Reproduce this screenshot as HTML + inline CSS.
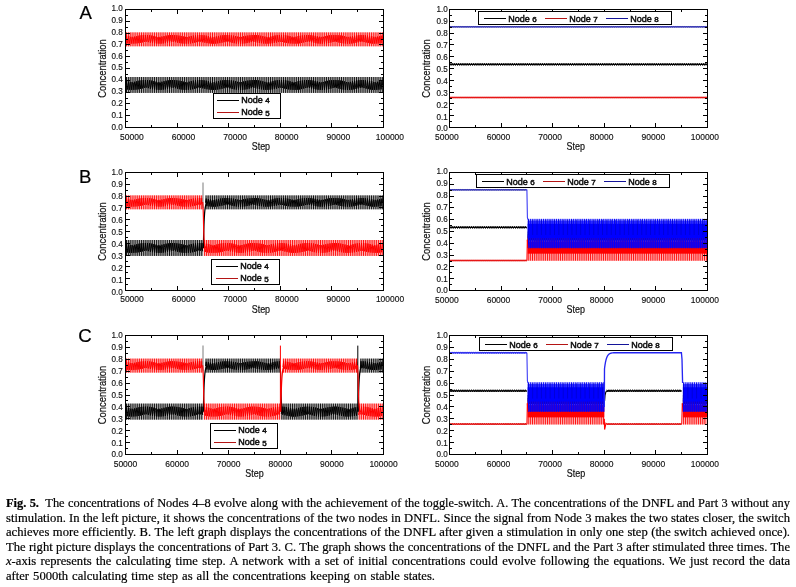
<!DOCTYPE html>
<html><head><meta charset="utf-8"><title>Fig. 5</title>
<style>
html,body{margin:0;padding:0;background:#fff;}
body{width:796px;height:587px;position:relative;overflow:hidden;font-family:"Liberation Sans",sans-serif;}
svg text{font-family:"Liberation Sans",sans-serif;fill:#111;}
.tk{font-size:8.8px;stroke:#111;stroke-width:0.15px;}
.ax{font-size:10.3px;stroke:#111;stroke-width:0.2px;}
.ax2{font-size:10.5px;stroke:#111;stroke-width:0.2px;}
.lg{font-size:9px;stroke:#111;stroke-width:0.5px;}
.os{font-size:8px;}
.pl{font-size:18.6px;fill:#000;stroke:#000;stroke-width:0.2px;}
.cl{position:absolute;left:6px;width:784px;height:15px;line-height:15px;font-family:"Liberation Serif",serif;font-size:12.6px;color:#000;-webkit-text-stroke:0.2px #000;white-space:nowrap;text-align:justify;text-align-last:justify;}
</style></head><body>
<svg width="796" height="490" viewBox="0 0 796 490" style="position:absolute;left:0;top:0">
<g>
<rect x="126" y="77" width="257" height="15.93" fill="#000000" opacity="0.3"/>
<path d="M126.5 77V92.93M128.65 77V92.93M130.8 77V92.93M132.95 77V92.93M135.1 77V92.93M137.25 77V92.93M139.4 77V92.93M141.55 77V92.93M143.7 77V92.93M145.85 77V92.93M148 77V92.93M150.15 77V92.93M152.3 77V92.93M154.45 77V92.93M156.6 77V92.93M158.75 77V92.93M160.9 77V92.93M163.05 77V92.93M165.2 77V92.93M167.35 77V92.93M169.5 77V92.93M171.65 77V92.93M173.8 77V92.93M175.95 77V92.93M178.1 77V92.93M180.25 77V92.93M182.4 77V92.93M184.55 77V92.93M186.7 77V92.93M188.85 77V92.93M191 77V92.93M193.15 77V92.93M195.3 77V92.93M197.45 77V92.93M199.6 77V92.93M201.75 77V92.93M203.9 77V92.93M206.05 77V92.93M208.2 77V92.93M210.35 77V92.93M212.5 77V92.93M214.65 77V92.93M216.8 77V92.93M218.95 77V92.93M221.1 77V92.93M223.25 77V92.93M225.4 77V92.93M227.55 77V92.93M229.7 77V92.93M231.85 77V92.93M234 77V92.93M236.15 77V92.93M238.3 77V92.93M240.45 77V92.93M242.6 77V92.93M244.75 77V92.93M246.9 77V92.93M249.05 77V92.93M251.2 77V92.93M253.35 77V92.93M255.5 77V92.93M257.65 77V92.93M259.8 77V92.93M261.95 77V92.93M264.1 77V92.93M266.25 77V92.93M268.4 77V92.93M270.55 77V92.93M272.7 77V92.93M274.85 77V92.93M277 77V92.93M279.15 77V92.93M281.3 77V92.93M283.45 77V92.93M285.6 77V92.93M287.75 77V92.93M289.9 77V92.93M292.05 77V92.93M294.2 77V92.93M296.35 77V92.93M298.5 77V92.93M300.65 77V92.93M302.8 77V92.93M304.95 77V92.93M307.1 77V92.93M309.25 77V92.93M311.4 77V92.93M313.55 77V92.93M315.7 77V92.93M317.85 77V92.93M320 77V92.93M322.15 77V92.93M324.3 77V92.93M326.45 77V92.93M328.6 77V92.93M330.75 77V92.93M332.9 77V92.93M335.05 77V92.93M337.2 77V92.93M339.35 77V92.93M341.5 77V92.93M343.65 77V92.93M345.8 77V92.93M347.95 77V92.93M350.1 77V92.93M352.25 77V92.93M354.4 77V92.93M356.55 77V92.93M358.7 77V92.93M360.85 77V92.93M363 77V92.93M365.15 77V92.93M367.3 77V92.93M369.45 77V92.93M371.6 77V92.93M373.75 77V92.93M375.9 77V92.93M378.05 77V92.93M380.2 77V92.93M382.35 77V92.93" fill="none" stroke="#000000" stroke-width="0.9"/>
<polyline points="126,84.77 126.72,80.94 127.43,89.56 128.15,83.95 128.87,81.47 129.58,89.79 130.3,83.16 131.02,82.09 131.73,89.9 132.45,82.43 133.17,82.8 133.88,89.86 134.6,81.76 135.32,83.57 136.03,89.69 136.75,81.18 137.47,84.38 138.18,89.39 138.9,80.7 139.62,85.2 140.33,88.96 141.05,80.35 141.77,86.01 142.48,88.42 143.2,80.12 143.92,86.8 144.63,87.79 145.35,80.03 146.07,87.53 146.78,87.08 147.5,80.07 148.22,88.2 148.93,86.31 149.65,80.25 150.37,88.77 151.08,85.5 151.8,80.56 152.52,89.24 153.23,84.68 153.95,80.99 154.67,89.59 155.38,83.87 156.1,81.53 156.82,89.81 157.53,83.08 158.25,82.17 158.97,89.9 159.68,82.35 160.4,82.88 161.12,89.85 161.83,81.69 162.55,83.66 163.27,89.66 163.98,81.12 164.7,84.46 165.42,89.35 166.13,80.66 166.85,85.29 167.57,88.91 168.28,80.32 169,86.1 169.72,88.36 170.43,80.1 171.15,86.88 171.87,87.72 172.58,80.02 173.3,87.61 174.02,87 174.73,80.08 175.45,88.27 176.17,86.22 176.88,80.27 177.6,88.83 178.32,85.41 179.03,80.6 179.75,89.28 180.47,84.59 181.18,81.04 181.9,89.62 182.62,83.78 183.33,81.6 184.05,89.83 184.77,83 185.48,82.24 186.2,89.9 186.92,82.27 187.63,82.96 188.35,89.83 189.07,81.62 189.78,83.74 190.5,89.63 191.22,81.07 191.93,84.55 192.65,89.3 193.37,80.62 194.08,85.38 194.8,88.85 195.52,80.29 196.23,86.19 196.95,88.29 197.67,80.09 198.38,86.96 199.1,87.64 199.82,80.02 200.53,87.69 201.25,86.92 201.97,80.1 202.68,88.33 203.4,86.14 204.12,80.3 204.83,88.88 205.55,85.32 206.27,80.64 206.98,89.33 207.7,84.5 208.42,81.1 209.13,89.65 209.85,83.69 210.57,81.66 211.28,89.84 212,82.92 212.72,82.32 213.43,89.9 214.15,82.2 214.87,83.05 215.58,89.82 216.3,81.56 217.02,83.83 217.73,89.6 218.45,81.01 219.17,84.64 219.88,89.26 220.6,80.57 221.32,85.46 222.03,88.8 222.75,80.26 223.47,86.27 224.18,88.23 224.9,80.07 225.62,87.05 226.33,87.57 227.05,80.02 227.77,87.76 228.48,86.83 229.2,80.11 229.92,88.4 230.63,86.05 231.35,80.33 232.07,88.94 232.78,85.24 233.5,80.68 234.22,89.37 234.93,84.41 235.65,81.15 236.37,89.68 237.08,83.61 237.8,81.73 238.52,89.85 239.23,82.84 239.95,82.39 240.67,89.9 241.38,82.13 242.1,83.13 242.82,89.8 243.53,81.49 244.25,83.92 244.97,89.57 245.68,80.96 246.4,84.73 247.12,89.22 247.83,80.53 248.55,85.55 249.27,88.74 249.98,80.23 250.7,86.36 251.42,88.16 252.13,80.06 252.85,87.13 253.57,87.49 254.28,80.03 255,87.83 255.72,86.75 256.43,80.13 257.15,88.46 257.87,85.96 258.58,80.37 259.3,88.99 260.02,85.15 260.73,80.73 261.45,89.41 262.17,84.32 262.88,81.21 263.6,89.7 264.32,83.52 265.03,81.8 265.75,89.87 266.47,82.76 267.18,82.47 267.9,89.89 268.62,82.05 269.33,83.21 270.05,89.78 270.77,81.43 271.48,84 272.2,89.54 272.92,80.91 273.63,84.82 274.35,89.17 275.07,80.49 275.78,85.64 276.5,88.68 277.22,80.21 277.93,86.44 278.65,88.09 279.37,80.05 280.08,87.21 280.8,87.41 281.52,80.03 282.23,87.9 282.95,86.67 283.67,80.15 284.38,88.52 285.1,85.88 285.82,80.4 286.53,89.04 287.25,85.06 287.97,80.78 288.68,89.45 289.4,84.24 290.12,81.27 290.83,89.73 291.55,83.43 292.27,81.87 292.98,89.88 293.7,82.68 294.42,82.55 295.13,89.89 295.85,81.98 296.57,83.3 297.28,89.76 298,81.37 298.72,84.09 299.43,89.51 300.15,80.86 300.87,84.91 301.58,89.12 302.3,80.46 303.02,85.73 303.73,88.62 304.45,80.18 305.17,86.53 305.88,88.02 306.6,80.04 307.32,87.29 308.03,87.34 308.75,80.04 309.47,87.98 310.18,86.58 310.9,80.17 311.62,88.58 312.33,85.79 313.05,80.43 313.77,89.09 314.48,84.97 315.2,80.82 315.92,89.48 316.63,84.15 317.35,81.33 318.07,89.75 318.78,83.35 319.5,81.94 320.22,89.88 320.93,82.6 321.65,82.63 322.37,89.88 323.08,81.91 323.8,83.38 324.52,89.74 325.23,81.31 325.95,84.18 326.67,89.47 327.38,80.81 328.1,85 328.82,89.07 329.53,80.42 330.25,85.82 330.97,88.56 331.68,80.16 332.4,86.61 333.12,87.95 333.83,80.04 334.55,87.36 335.27,87.26 335.98,80.05 336.7,88.05 337.42,86.5 338.13,80.19 338.85,88.64 339.57,85.7 340.28,80.47 341,89.14 341.72,84.88 342.43,80.87 343.15,89.52 343.87,84.06 344.58,81.39 345.3,89.77 346.02,83.27 346.73,82.01 347.45,89.89 348.17,82.52 348.88,82.7 349.6,89.87 350.32,81.84 351.03,83.47 351.75,89.72 352.47,81.25 353.18,84.27 353.9,89.43 354.62,80.76 355.33,85.09 356.05,89.02 356.77,80.39 357.48,85.91 358.2,88.5 358.92,80.14 359.63,86.7 360.35,87.88 361.07,80.03 361.78,87.44 362.5,87.18 363.22,80.05 363.93,88.12 364.65,86.41 365.37,80.22 366.08,88.7 366.8,85.61 367.52,80.51 368.23,89.19 368.95,84.79 369.67,80.92 370.38,89.55 371.1,83.97 371.82,81.45 372.53,89.79 373.25,83.18 373.97,82.08 374.68,89.89 375.4,82.44 376.12,82.78 376.83,89.86 377.55,81.77 378.27,83.55 378.98,89.69 379.7,81.19 380.42,84.36 381.13,89.39 381.85,80.71 382.57,85.18" fill="none" stroke="#000000" stroke-width="1" stroke-linejoin="round"/>
<rect x="126" y="32.39" width="257" height="13.92" fill="#ff0000" opacity="0.3"/>
<path d="M126.5 32.39V46.32M128.65 32.39V46.32M130.8 32.39V46.32M132.95 32.39V46.32M135.1 32.39V46.32M137.25 32.39V46.32M139.4 32.39V46.32M141.55 32.39V46.32M143.7 32.39V46.32M145.85 32.39V46.32M148 32.39V46.32M150.15 32.39V46.32M152.3 32.39V46.32M154.45 32.39V46.32M156.6 32.39V46.32M158.75 32.39V46.32M160.9 32.39V46.32M163.05 32.39V46.32M165.2 32.39V46.32M167.35 32.39V46.32M169.5 32.39V46.32M171.65 32.39V46.32M173.8 32.39V46.32M175.95 32.39V46.32M178.1 32.39V46.32M180.25 32.39V46.32M182.4 32.39V46.32M184.55 32.39V46.32M186.7 32.39V46.32M188.85 32.39V46.32M191 32.39V46.32M193.15 32.39V46.32M195.3 32.39V46.32M197.45 32.39V46.32M199.6 32.39V46.32M201.75 32.39V46.32M203.9 32.39V46.32M206.05 32.39V46.32M208.2 32.39V46.32M210.35 32.39V46.32M212.5 32.39V46.32M214.65 32.39V46.32M216.8 32.39V46.32M218.95 32.39V46.32M221.1 32.39V46.32M223.25 32.39V46.32M225.4 32.39V46.32M227.55 32.39V46.32M229.7 32.39V46.32M231.85 32.39V46.32M234 32.39V46.32M236.15 32.39V46.32M238.3 32.39V46.32M240.45 32.39V46.32M242.6 32.39V46.32M244.75 32.39V46.32M246.9 32.39V46.32M249.05 32.39V46.32M251.2 32.39V46.32M253.35 32.39V46.32M255.5 32.39V46.32M257.65 32.39V46.32M259.8 32.39V46.32M261.95 32.39V46.32M264.1 32.39V46.32M266.25 32.39V46.32M268.4 32.39V46.32M270.55 32.39V46.32M272.7 32.39V46.32M274.85 32.39V46.32M277 32.39V46.32M279.15 32.39V46.32M281.3 32.39V46.32M283.45 32.39V46.32M285.6 32.39V46.32M287.75 32.39V46.32M289.9 32.39V46.32M292.05 32.39V46.32M294.2 32.39V46.32M296.35 32.39V46.32M298.5 32.39V46.32M300.65 32.39V46.32M302.8 32.39V46.32M304.95 32.39V46.32M307.1 32.39V46.32M309.25 32.39V46.32M311.4 32.39V46.32M313.55 32.39V46.32M315.7 32.39V46.32M317.85 32.39V46.32M320 32.39V46.32M322.15 32.39V46.32M324.3 32.39V46.32M326.45 32.39V46.32M328.6 32.39V46.32M330.75 32.39V46.32M332.9 32.39V46.32M335.05 32.39V46.32M337.2 32.39V46.32M339.35 32.39V46.32M341.5 32.39V46.32M343.65 32.39V46.32M345.8 32.39V46.32M347.95 32.39V46.32M350.1 32.39V46.32M352.25 32.39V46.32M354.4 32.39V46.32M356.55 32.39V46.32M358.7 32.39V46.32M360.85 32.39V46.32M363 32.39V46.32M365.15 32.39V46.32M367.3 32.39V46.32M369.45 32.39V46.32M371.6 32.39V46.32M373.75 32.39V46.32M375.9 32.39V46.32M378.05 32.39V46.32M380.2 32.39V46.32M382.35 32.39V46.32" fill="none" stroke="#ff0000" stroke-width="0.9"/>
<polyline points="126,39.19 126.72,35.84 127.43,43.37 128.15,38.47 128.87,36.3 129.58,43.58 130.3,37.78 131.02,36.85 131.73,43.67 132.45,37.14 133.17,37.47 133.88,43.64 134.6,36.55 135.32,38.14 136.03,43.49 136.75,36.05 137.47,38.84 138.18,43.22 138.9,35.63 139.62,39.56 140.33,42.85 141.05,35.32 141.77,40.27 142.48,42.38 143.2,35.12 143.92,40.96 144.63,41.83 145.35,35.04 146.07,41.6 146.78,41.21 147.5,35.08 148.22,42.18 148.93,40.53 149.65,35.23 150.37,42.69 151.08,39.83 151.8,35.5 152.52,43.09 153.23,39.11 153.95,35.88 154.67,43.4 155.38,38.4 156.1,36.36 156.82,43.59 157.53,37.71 158.25,36.91 158.97,43.67 159.68,37.07 160.4,37.54 161.12,43.63 161.83,36.49 162.55,38.21 163.27,43.46 163.98,36 164.7,38.92 165.42,43.19 166.13,35.59 166.85,39.64 167.57,42.8 168.28,35.29 169,40.35 169.72,42.32 170.43,35.11 171.15,41.03 171.87,41.76 172.58,35.04 173.3,41.67 174.02,41.14 174.73,35.09 175.45,42.24 176.17,40.46 176.88,35.26 177.6,42.73 178.32,39.75 179.03,35.54 179.75,43.13 180.47,39.03 181.18,35.93 181.9,43.43 182.62,38.32 183.33,36.41 184.05,43.61 184.77,37.64 185.48,36.98 186.2,43.67 186.92,37.01 187.63,37.61 188.35,43.61 189.07,36.44 189.78,38.29 190.5,43.44 191.22,35.95 191.93,39 192.65,43.15 193.37,35.56 194.08,39.72 194.8,42.76 195.52,35.27 196.23,40.43 196.95,42.27 197.67,35.09 198.38,41.1 199.1,41.7 199.82,35.04 200.53,41.74 201.25,41.06 201.97,35.1 202.68,42.3 203.4,40.38 204.12,35.28 204.83,42.78 205.55,39.67 206.27,35.58 206.98,43.17 207.7,38.95 208.42,35.98 209.13,43.45 209.85,38.24 210.57,36.47 211.28,43.62 212,37.57 212.72,37.04 213.43,43.67 214.15,36.94 214.87,37.68 215.58,43.6 216.3,36.38 217.02,38.36 217.73,43.41 218.45,35.9 219.17,39.08 219.88,43.11 220.6,35.52 221.32,39.79 222.03,42.71 222.75,35.24 223.47,40.5 224.18,42.21 224.9,35.08 225.62,41.18 226.33,41.63 227.05,35.04 227.77,41.8 228.48,40.99 229.2,35.12 229.92,42.36 230.63,40.31 231.35,35.31 232.07,42.83 232.78,39.59 233.5,35.62 234.22,43.21 234.93,38.88 235.65,36.03 236.37,43.48 237.08,38.17 237.8,36.53 238.52,43.63 239.23,37.5 239.95,37.11 240.67,43.67 241.38,36.88 242.1,37.75 242.82,43.59 243.53,36.32 244.25,38.44 244.97,43.38 245.68,35.86 246.4,39.15 247.12,43.07 247.83,35.48 248.55,39.87 249.27,42.66 249.98,35.22 250.7,40.58 251.42,42.15 252.13,35.07 252.85,41.25 253.57,41.57 254.28,35.04 255,41.86 255.72,40.92 256.43,35.13 257.15,42.41 257.87,40.23 258.58,35.34 259.3,42.88 260.02,39.52 260.73,35.66 261.45,43.24 262.17,38.8 262.88,36.08 263.6,43.5 264.32,38.09 265.03,36.59 265.75,43.64 266.47,37.43 267.18,37.18 267.9,43.66 268.62,36.81 269.33,37.83 270.05,43.57 270.77,36.27 271.48,38.52 272.2,43.36 272.92,35.81 273.63,39.23 274.35,43.03 275.07,35.45 275.78,39.95 276.5,42.61 277.22,35.2 277.93,40.65 278.65,42.09 279.37,35.06 280.08,41.32 280.8,41.5 281.52,35.05 282.23,41.93 282.95,40.85 283.67,35.15 284.38,42.47 285.1,40.15 285.82,35.37 286.53,42.92 287.25,39.44 287.97,35.7 288.68,43.27 289.4,38.72 290.12,36.13 290.83,43.52 291.55,38.02 292.27,36.65 292.98,43.65 293.7,37.36 294.42,37.24 295.13,43.66 295.85,36.75 296.57,37.9 297.28,43.55 298,36.21 298.72,38.59 299.43,43.33 300.15,35.77 300.87,39.31 301.58,42.99 302.3,35.42 303.02,40.03 303.73,42.55 304.45,35.18 305.17,40.72 305.88,42.03 306.6,35.05 307.32,41.39 308.03,41.43 308.75,35.05 309.47,41.99 310.18,40.77 310.9,35.17 311.62,42.52 312.33,40.08 313.05,35.4 313.77,42.96 314.48,39.36 315.2,35.74 315.92,43.31 316.63,38.64 317.35,36.18 318.07,43.54 318.78,37.95 319.5,36.71 320.22,43.66 320.93,37.29 321.65,37.31 322.37,43.65 323.08,36.69 323.8,37.97 324.52,43.53 325.23,36.16 325.95,38.67 326.67,43.29 327.38,35.72 328.1,39.39 328.82,42.95 329.53,35.39 330.25,40.1 330.97,42.5 331.68,35.16 332.4,40.8 333.12,41.97 333.83,35.05 334.55,41.45 335.27,41.36 335.98,35.06 336.7,42.05 337.42,40.7 338.13,35.19 338.85,42.57 339.57,40 340.28,35.43 341,43.01 341.72,39.28 342.43,35.78 343.15,43.34 343.87,38.57 344.58,36.23 345.3,43.56 346.02,37.87 346.73,36.77 347.45,43.66 348.17,37.22 348.88,37.38 349.6,43.65 350.32,36.63 351.03,38.05 351.75,43.51 352.47,36.11 353.18,38.75 353.9,43.26 354.62,35.68 355.33,39.47 356.05,42.9 356.77,35.36 357.48,40.18 358.2,42.45 358.92,35.14 359.63,40.87 360.35,41.9 361.07,35.04 361.78,41.52 362.5,41.29 363.22,35.07 363.93,42.11 364.65,40.62 365.37,35.21 366.08,42.62 366.8,39.92 367.52,35.46 368.23,43.05 368.95,39.2 369.67,35.83 370.38,43.37 371.1,38.49 371.82,36.29 372.53,43.57 373.25,37.8 373.97,36.83 374.68,43.67 375.4,37.15 376.12,37.45 376.83,43.64 377.55,36.57 378.27,38.12 378.98,43.49 379.7,36.06 380.42,38.83 381.13,43.23 381.85,35.64 382.57,39.54" fill="none" stroke="#ff0000" stroke-width="1" stroke-linejoin="round"/>
<rect x="125.5" y="9.5" width="258" height="118" fill="none" stroke="#000" stroke-width="1" shape-rendering="crispEdges"/>
<path d="M125.5 127.5v-4.5M125.5 9.5v4.5M151.5 127.5v-2.5M151.5 9.5v2.5M177.5 127.5v-4.5M177.5 9.5v4.5M202.5 127.5v-2.5M202.5 9.5v2.5M228.5 127.5v-4.5M228.5 9.5v4.5M254.5 127.5v-2.5M254.5 9.5v2.5M280.5 127.5v-4.5M280.5 9.5v4.5M306.5 127.5v-2.5M306.5 9.5v2.5M331.5 127.5v-4.5M331.5 9.5v4.5M357.5 127.5v-2.5M357.5 9.5v2.5M383.5 127.5v-4.5M383.5 9.5v4.5M125.5 127.5h4.5M383.5 127.5h-4.5M125.5 121.5h2.5M383.5 121.5h-2.5M125.5 115.5h4.5M383.5 115.5h-4.5M125.5 109.5h2.5M383.5 109.5h-2.5M125.5 103.5h4.5M383.5 103.5h-4.5M125.5 98.5h2.5M383.5 98.5h-2.5M125.5 92.5h4.5M383.5 92.5h-4.5M125.5 86.5h2.5M383.5 86.5h-2.5M125.5 80.5h4.5M383.5 80.5h-4.5M125.5 74.5h2.5M383.5 74.5h-2.5M125.5 68.5h4.5M383.5 68.5h-4.5M125.5 62.5h2.5M383.5 62.5h-2.5M125.5 56.5h4.5M383.5 56.5h-4.5M125.5 50.5h2.5M383.5 50.5h-2.5M125.5 44.5h4.5M383.5 44.5h-4.5M125.5 39.5h2.5M383.5 39.5h-2.5M125.5 33.5h4.5M383.5 33.5h-4.5M125.5 27.5h2.5M383.5 27.5h-2.5M125.5 21.5h4.5M383.5 21.5h-4.5M125.5 15.5h2.5M383.5 15.5h-2.5M125.5 9.5h4.5M383.5 9.5h-4.5" stroke="#000" stroke-width="1" fill="none" shape-rendering="crispEdges"/>
<rect x="213.5" y="93.5" width="67" height="25" fill="#fff" stroke="#000" stroke-width="1" shape-rendering="crispEdges"/>
<path d="M217 100.5h22" stroke="#000" stroke-width="1" shape-rendering="crispEdges"/>
<path d="M217 112.5h22" stroke="#b41414" stroke-width="1" shape-rendering="crispEdges"/>
</g>
<g>
<polyline points="450,64.37 707,64.37" fill="none" stroke="#000000" stroke-width="1.2" />
<polyline points="450,63.22 451.07,65.52 452.15,63.22 453.22,65.52 454.3,63.22 455.37,65.52 456.45,63.22 457.52,65.52 458.6,63.22 459.67,65.52 460.75,63.22 461.82,65.52 462.9,63.22 463.97,65.52 465.05,63.22 466.12,65.52 467.2,63.22 468.27,65.52 469.35,63.22 470.42,65.52 471.5,63.22 472.57,65.52 473.65,63.22 474.72,65.52 475.8,63.22 476.87,65.52 477.95,63.22 479.02,65.52 480.1,63.22 481.17,65.52 482.25,63.22 483.32,65.52 484.4,63.22 485.47,65.52 486.55,63.22 487.62,65.52 488.7,63.22 489.77,65.52 490.85,63.22 491.92,65.52 493,63.22 494.07,65.52 495.15,63.22 496.22,65.52 497.3,63.22 498.37,65.52 499.45,63.22 500.52,65.52 501.6,63.22 502.67,65.52 503.75,63.22 504.82,65.52 505.9,63.22 506.97,65.52 508.05,63.22 509.12,65.52 510.2,63.22 511.27,65.52 512.35,63.22 513.42,65.52 514.5,63.22 515.57,65.52 516.65,63.22 517.72,65.52 518.8,63.22 519.87,65.52 520.95,63.22 522.02,65.52 523.1,63.22 524.17,65.52 525.25,63.22 526.32,65.52 527.4,63.22 528.48,65.52 529.55,63.22 530.63,65.52 531.7,63.22 532.78,65.52 533.85,63.22 534.93,65.52 536,63.22 537.08,65.52 538.15,63.22 539.23,65.52 540.3,63.22 541.38,65.52 542.45,63.22 543.53,65.52 544.6,63.22 545.68,65.52 546.75,63.22 547.83,65.52 548.9,63.22 549.98,65.52 551.05,63.22 552.13,65.52 553.2,63.22 554.28,65.52 555.35,63.22 556.43,65.52 557.5,63.22 558.58,65.52 559.65,63.22 560.73,65.52 561.8,63.22 562.88,65.52 563.95,63.22 565.03,65.52 566.1,63.22 567.18,65.52 568.25,63.22 569.33,65.52 570.4,63.22 571.48,65.52 572.55,63.22 573.63,65.52 574.7,63.22 575.78,65.52 576.85,63.22 577.93,65.52 579,63.22 580.08,65.52 581.15,63.22 582.23,65.52 583.3,63.22 584.38,65.52 585.45,63.22 586.53,65.52 587.6,63.22 588.68,65.52 589.75,63.22 590.83,65.52 591.9,63.22 592.98,65.52 594.05,63.22 595.13,65.52 596.2,63.22 597.28,65.52 598.35,63.22 599.43,65.52 600.5,63.22 601.58,65.52 602.65,63.22 603.73,65.52 604.8,63.22 605.88,65.52 606.95,63.22 608.03,65.52 609.1,63.22 610.18,65.52 611.25,63.22 612.33,65.52 613.4,63.22 614.48,65.52 615.55,63.22 616.63,65.52 617.7,63.22 618.78,65.52 619.85,63.22 620.93,65.52 622,63.22 623.08,65.52 624.15,63.22 625.23,65.52 626.3,63.22 627.38,65.52 628.45,63.22 629.53,65.52 630.6,63.22 631.68,65.52 632.75,63.22 633.83,65.52 634.9,63.22 635.98,65.52 637.05,63.22 638.13,65.52 639.2,63.22 640.28,65.52 641.35,63.22 642.43,65.52 643.5,63.22 644.58,65.52 645.65,63.22 646.73,65.52 647.8,63.22 648.88,65.52 649.95,63.22 651.03,65.52 652.1,63.22 653.18,65.52 654.25,63.22 655.33,65.52 656.4,63.22 657.48,65.52 658.55,63.22 659.63,65.52 660.7,63.22 661.78,65.52 662.85,63.22 663.93,65.52 665,63.22 666.08,65.52 667.15,63.22 668.23,65.52 669.3,63.22 670.38,65.52 671.45,63.22 672.53,65.52 673.6,63.22 674.68,65.52 675.75,63.22 676.83,65.52 677.9,63.22 678.98,65.52 680.05,63.22 681.13,65.52 682.2,63.22 683.28,65.52 684.35,63.22 685.43,65.52 686.5,63.22 687.58,65.52 688.65,63.22 689.73,65.52 690.8,63.22 691.88,65.52 692.95,63.22 694.03,65.52 695.1,63.22 696.18,65.52 697.25,63.22 698.33,65.52 699.4,63.22 700.48,65.52 701.55,63.22 702.63,65.52 703.7,63.22 704.78,65.52 705.85,63.22 706.93,65.52" fill="none" stroke="#000000" stroke-width="0.85" />
<polyline points="450,97.53 707,97.53" fill="none" stroke="#e61616" stroke-width="1.5" />
<polyline points="450,96.93 451.07,98.13 452.15,96.93 453.22,98.13 454.3,96.93 455.37,98.13 456.45,96.93 457.52,98.13 458.6,96.93 459.67,98.13 460.75,96.93 461.82,98.13 462.9,96.93 463.97,98.13 465.05,96.93 466.12,98.13 467.2,96.93 468.27,98.13 469.35,96.93 470.42,98.13 471.5,96.93 472.57,98.13 473.65,96.93 474.72,98.13 475.8,96.93 476.87,98.13 477.95,96.93 479.02,98.13 480.1,96.93 481.17,98.13 482.25,96.93 483.32,98.13 484.4,96.93 485.47,98.13 486.55,96.93 487.62,98.13 488.7,96.93 489.77,98.13 490.85,96.93 491.92,98.13 493,96.93 494.07,98.13 495.15,96.93 496.22,98.13 497.3,96.93 498.37,98.13 499.45,96.93 500.52,98.13 501.6,96.93 502.67,98.13 503.75,96.93 504.82,98.13 505.9,96.93 506.97,98.13 508.05,96.93 509.12,98.13 510.2,96.93 511.27,98.13 512.35,96.93 513.42,98.13 514.5,96.93 515.57,98.13 516.65,96.93 517.72,98.13 518.8,96.93 519.87,98.13 520.95,96.93 522.02,98.13 523.1,96.93 524.17,98.13 525.25,96.93 526.32,98.13 527.4,96.93 528.48,98.13 529.55,96.93 530.63,98.13 531.7,96.93 532.78,98.13 533.85,96.93 534.93,98.13 536,96.93 537.08,98.13 538.15,96.93 539.23,98.13 540.3,96.93 541.38,98.13 542.45,96.93 543.53,98.13 544.6,96.93 545.68,98.13 546.75,96.93 547.83,98.13 548.9,96.93 549.98,98.13 551.05,96.93 552.13,98.13 553.2,96.93 554.28,98.13 555.35,96.93 556.43,98.13 557.5,96.93 558.58,98.13 559.65,96.93 560.73,98.13 561.8,96.93 562.88,98.13 563.95,96.93 565.03,98.13 566.1,96.93 567.18,98.13 568.25,96.93 569.33,98.13 570.4,96.93 571.48,98.13 572.55,96.93 573.63,98.13 574.7,96.93 575.78,98.13 576.85,96.93 577.93,98.13 579,96.93 580.08,98.13 581.15,96.93 582.23,98.13 583.3,96.93 584.38,98.13 585.45,96.93 586.53,98.13 587.6,96.93 588.68,98.13 589.75,96.93 590.83,98.13 591.9,96.93 592.98,98.13 594.05,96.93 595.13,98.13 596.2,96.93 597.28,98.13 598.35,96.93 599.43,98.13 600.5,96.93 601.58,98.13 602.65,96.93 603.73,98.13 604.8,96.93 605.88,98.13 606.95,96.93 608.03,98.13 609.1,96.93 610.18,98.13 611.25,96.93 612.33,98.13 613.4,96.93 614.48,98.13 615.55,96.93 616.63,98.13 617.7,96.93 618.78,98.13 619.85,96.93 620.93,98.13 622,96.93 623.08,98.13 624.15,96.93 625.23,98.13 626.3,96.93 627.38,98.13 628.45,96.93 629.53,98.13 630.6,96.93 631.68,98.13 632.75,96.93 633.83,98.13 634.9,96.93 635.98,98.13 637.05,96.93 638.13,98.13 639.2,96.93 640.28,98.13 641.35,96.93 642.43,98.13 643.5,96.93 644.58,98.13 645.65,96.93 646.73,98.13 647.8,96.93 648.88,98.13 649.95,96.93 651.03,98.13 652.1,96.93 653.18,98.13 654.25,96.93 655.33,98.13 656.4,96.93 657.48,98.13 658.55,96.93 659.63,98.13 660.7,96.93 661.78,98.13 662.85,96.93 663.93,98.13 665,96.93 666.08,98.13 667.15,96.93 668.23,98.13 669.3,96.93 670.38,98.13 671.45,96.93 672.53,98.13 673.6,96.93 674.68,98.13 675.75,96.93 676.83,98.13 677.9,96.93 678.98,98.13 680.05,96.93 681.13,98.13 682.2,96.93 683.28,98.13 684.35,96.93 685.43,98.13 686.5,96.93 687.58,98.13 688.65,96.93 689.73,98.13 690.8,96.93 691.88,98.13 692.95,96.93 694.03,98.13 695.1,96.93 696.18,98.13 697.25,96.93 698.33,98.13 699.4,96.93 700.48,98.13 701.55,96.93 702.63,98.13 703.7,96.93 704.78,98.13 705.85,96.93 706.93,98.13" fill="none" stroke="#e61616" stroke-width="0.8" />
<polyline points="450,26.85 707,26.85" fill="none" stroke="#1c1ca8" stroke-width="1.4" />
<polyline points="450,26.5 451.07,27.2 452.15,26.5 453.22,27.2 454.3,26.5 455.37,27.2 456.45,26.5 457.52,27.2 458.6,26.5 459.67,27.2 460.75,26.5 461.82,27.2 462.9,26.5 463.97,27.2 465.05,26.5 466.12,27.2 467.2,26.5 468.27,27.2 469.35,26.5 470.42,27.2 471.5,26.5 472.57,27.2 473.65,26.5 474.72,27.2 475.8,26.5 476.87,27.2 477.95,26.5 479.02,27.2 480.1,26.5 481.17,27.2 482.25,26.5 483.32,27.2 484.4,26.5 485.47,27.2 486.55,26.5 487.62,27.2 488.7,26.5 489.77,27.2 490.85,26.5 491.92,27.2 493,26.5 494.07,27.2 495.15,26.5 496.22,27.2 497.3,26.5 498.37,27.2 499.45,26.5 500.52,27.2 501.6,26.5 502.67,27.2 503.75,26.5 504.82,27.2 505.9,26.5 506.97,27.2 508.05,26.5 509.12,27.2 510.2,26.5 511.27,27.2 512.35,26.5 513.42,27.2 514.5,26.5 515.57,27.2 516.65,26.5 517.72,27.2 518.8,26.5 519.87,27.2 520.95,26.5 522.02,27.2 523.1,26.5 524.17,27.2 525.25,26.5 526.32,27.2 527.4,26.5 528.48,27.2 529.55,26.5 530.63,27.2 531.7,26.5 532.78,27.2 533.85,26.5 534.93,27.2 536,26.5 537.08,27.2 538.15,26.5 539.23,27.2 540.3,26.5 541.38,27.2 542.45,26.5 543.53,27.2 544.6,26.5 545.68,27.2 546.75,26.5 547.83,27.2 548.9,26.5 549.98,27.2 551.05,26.5 552.13,27.2 553.2,26.5 554.28,27.2 555.35,26.5 556.43,27.2 557.5,26.5 558.58,27.2 559.65,26.5 560.73,27.2 561.8,26.5 562.88,27.2 563.95,26.5 565.03,27.2 566.1,26.5 567.18,27.2 568.25,26.5 569.33,27.2 570.4,26.5 571.48,27.2 572.55,26.5 573.63,27.2 574.7,26.5 575.78,27.2 576.85,26.5 577.93,27.2 579,26.5 580.08,27.2 581.15,26.5 582.23,27.2 583.3,26.5 584.38,27.2 585.45,26.5 586.53,27.2 587.6,26.5 588.68,27.2 589.75,26.5 590.83,27.2 591.9,26.5 592.98,27.2 594.05,26.5 595.13,27.2 596.2,26.5 597.28,27.2 598.35,26.5 599.43,27.2 600.5,26.5 601.58,27.2 602.65,26.5 603.73,27.2 604.8,26.5 605.88,27.2 606.95,26.5 608.03,27.2 609.1,26.5 610.18,27.2 611.25,26.5 612.33,27.2 613.4,26.5 614.48,27.2 615.55,26.5 616.63,27.2 617.7,26.5 618.78,27.2 619.85,26.5 620.93,27.2 622,26.5 623.08,27.2 624.15,26.5 625.23,27.2 626.3,26.5 627.38,27.2 628.45,26.5 629.53,27.2 630.6,26.5 631.68,27.2 632.75,26.5 633.83,27.2 634.9,26.5 635.98,27.2 637.05,26.5 638.13,27.2 639.2,26.5 640.28,27.2 641.35,26.5 642.43,27.2 643.5,26.5 644.58,27.2 645.65,26.5 646.73,27.2 647.8,26.5 648.88,27.2 649.95,26.5 651.03,27.2 652.1,26.5 653.18,27.2 654.25,26.5 655.33,27.2 656.4,26.5 657.48,27.2 658.55,26.5 659.63,27.2 660.7,26.5 661.78,27.2 662.85,26.5 663.93,27.2 665,26.5 666.08,27.2 667.15,26.5 668.23,27.2 669.3,26.5 670.38,27.2 671.45,26.5 672.53,27.2 673.6,26.5 674.68,27.2 675.75,26.5 676.83,27.2 677.9,26.5 678.98,27.2 680.05,26.5 681.13,27.2 682.2,26.5 683.28,27.2 684.35,26.5 685.43,27.2 686.5,26.5 687.58,27.2 688.65,26.5 689.73,27.2 690.8,26.5 691.88,27.2 692.95,26.5 694.03,27.2 695.1,26.5 696.18,27.2 697.25,26.5 698.33,27.2 699.4,26.5 700.48,27.2 701.55,26.5 702.63,27.2 703.7,26.5 704.78,27.2 705.85,26.5 706.93,27.2" fill="none" stroke="#1c1ca8" stroke-width="0.6" />
<rect x="449.5" y="9.5" width="258" height="118" fill="none" stroke="#000" stroke-width="1" shape-rendering="crispEdges"/>
<path d="M449.5 127.5v-4.5M449.5 9.5v4.5M475.5 127.5v-2.5M475.5 9.5v2.5M501.5 127.5v-4.5M501.5 9.5v4.5M526.5 127.5v-2.5M526.5 9.5v2.5M552.5 127.5v-4.5M552.5 9.5v4.5M578.5 127.5v-2.5M578.5 9.5v2.5M604.5 127.5v-4.5M604.5 9.5v4.5M630.5 127.5v-2.5M630.5 9.5v2.5M655.5 127.5v-4.5M655.5 9.5v4.5M681.5 127.5v-2.5M681.5 9.5v2.5M707.5 127.5v-4.5M707.5 9.5v4.5M449.5 127.5h4.5M707.5 127.5h-4.5M449.5 121.5h2.5M707.5 121.5h-2.5M449.5 115.5h4.5M707.5 115.5h-4.5M449.5 109.5h2.5M707.5 109.5h-2.5M449.5 103.5h4.5M707.5 103.5h-4.5M449.5 98.5h2.5M707.5 98.5h-2.5M449.5 92.5h4.5M707.5 92.5h-4.5M449.5 86.5h2.5M707.5 86.5h-2.5M449.5 80.5h4.5M707.5 80.5h-4.5M449.5 74.5h2.5M707.5 74.5h-2.5M449.5 68.5h4.5M707.5 68.5h-4.5M449.5 62.5h2.5M707.5 62.5h-2.5M449.5 56.5h4.5M707.5 56.5h-4.5M449.5 50.5h2.5M707.5 50.5h-2.5M449.5 44.5h4.5M707.5 44.5h-4.5M449.5 39.5h2.5M707.5 39.5h-2.5M449.5 33.5h4.5M707.5 33.5h-4.5M449.5 27.5h2.5M707.5 27.5h-2.5M449.5 21.5h4.5M707.5 21.5h-4.5M449.5 15.5h2.5M707.5 15.5h-2.5M449.5 9.5h4.5M707.5 9.5h-4.5" stroke="#000" stroke-width="1" fill="none" shape-rendering="crispEdges"/>
<rect x="478.5" y="11.5" width="193" height="13" fill="#fff" stroke="#000" stroke-width="1" shape-rendering="crispEdges"/>
<path d="M484 18.5h22" stroke="#000" stroke-width="1" shape-rendering="crispEdges"/>
<path d="M545 18.5h22" stroke="#b41414" stroke-width="1" shape-rendering="crispEdges"/>
<path d="M606 18.5h22" stroke="#14149a" stroke-width="1" shape-rendering="crispEdges"/>
</g>
<g>
<rect x="126" y="240" width="76.9" height="15.93" fill="#000000" opacity="0.3"/>
<path d="M126.5 240V255.93M128.65 240V255.93M130.8 240V255.93M132.95 240V255.93M135.1 240V255.93M137.25 240V255.93M139.4 240V255.93M141.55 240V255.93M143.7 240V255.93M145.85 240V255.93M148 240V255.93M150.15 240V255.93M152.3 240V255.93M154.45 240V255.93M156.6 240V255.93M158.75 240V255.93M160.9 240V255.93M163.05 240V255.93M165.2 240V255.93M167.35 240V255.93M169.5 240V255.93M171.65 240V255.93M173.8 240V255.93M175.95 240V255.93M178.1 240V255.93M180.25 240V255.93M182.4 240V255.93M184.55 240V255.93M186.7 240V255.93M188.85 240V255.93M191 240V255.93M193.15 240V255.93M195.3 240V255.93M197.45 240V255.93M199.6 240V255.93M201.75 240V255.93" fill="none" stroke="#000000" stroke-width="0.9"/>
<polyline points="126,247.77 126.72,243.94 127.43,252.56 128.15,246.95 128.87,244.47 129.58,252.79 130.3,246.16 131.02,245.09 131.73,252.9 132.45,245.43 133.17,245.8 133.88,252.86 134.6,244.76 135.32,246.57 136.03,252.69 136.75,244.18 137.47,247.38 138.18,252.39 138.9,243.7 139.62,248.2 140.33,251.96 141.05,243.35 141.77,249.01 142.48,251.42 143.2,243.12 143.92,249.8 144.63,250.79 145.35,243.03 146.07,250.53 146.78,250.08 147.5,243.07 148.22,251.2 148.93,249.31 149.65,243.25 150.37,251.77 151.08,248.5 151.8,243.56 152.52,252.24 153.23,247.68 153.95,243.99 154.67,252.59 155.38,246.87 156.1,244.53 156.82,252.81 157.53,246.08 158.25,245.17 158.97,252.9 159.68,245.35 160.4,245.88 161.12,252.85 161.83,244.69 162.55,246.66 163.27,252.66 163.98,244.12 164.7,247.46 165.42,252.35 166.13,243.66 166.85,248.29 167.57,251.91 168.28,243.32 169,249.1 169.72,251.36 170.43,243.1 171.15,249.88 171.87,250.72 172.58,243.02 173.3,250.61 174.02,250 174.73,243.08 175.45,251.27 176.17,249.22 176.88,243.27 177.6,251.83 178.32,248.41 179.03,243.6 179.75,252.28 180.47,247.59 181.18,244.04 181.9,252.62 182.62,246.78 183.33,244.6 184.05,252.83 184.77,246 185.48,245.24 186.2,252.9 186.92,245.27 187.63,245.96 188.35,252.83 189.07,244.62 189.78,246.74 190.5,252.63 191.22,244.07 191.93,247.55 192.65,252.3 193.37,243.62 194.08,248.38 194.8,251.85 195.52,243.29 196.23,249.19 196.95,251.29 197.67,243.09 198.38,249.96 199.1,250.64 199.82,243.02 200.53,250.69 201.25,249.92 201.97,243.1 202.68,251.33" fill="none" stroke="#000000" stroke-width="1" stroke-linejoin="round"/>
<rect x="126" y="195.39" width="76.9" height="13.92" fill="#ff0000" opacity="0.3"/>
<path d="M126.5 195.39V209.32M128.65 195.39V209.32M130.8 195.39V209.32M132.95 195.39V209.32M135.1 195.39V209.32M137.25 195.39V209.32M139.4 195.39V209.32M141.55 195.39V209.32M143.7 195.39V209.32M145.85 195.39V209.32M148 195.39V209.32M150.15 195.39V209.32M152.3 195.39V209.32M154.45 195.39V209.32M156.6 195.39V209.32M158.75 195.39V209.32M160.9 195.39V209.32M163.05 195.39V209.32M165.2 195.39V209.32M167.35 195.39V209.32M169.5 195.39V209.32M171.65 195.39V209.32M173.8 195.39V209.32M175.95 195.39V209.32M178.1 195.39V209.32M180.25 195.39V209.32M182.4 195.39V209.32M184.55 195.39V209.32M186.7 195.39V209.32M188.85 195.39V209.32M191 195.39V209.32M193.15 195.39V209.32M195.3 195.39V209.32M197.45 195.39V209.32M199.6 195.39V209.32M201.75 195.39V209.32" fill="none" stroke="#ff0000" stroke-width="0.9"/>
<polyline points="126,202.19 126.72,198.84 127.43,206.37 128.15,201.47 128.87,199.3 129.58,206.58 130.3,200.78 131.02,199.85 131.73,206.67 132.45,200.14 133.17,200.47 133.88,206.64 134.6,199.55 135.32,201.14 136.03,206.49 136.75,199.05 137.47,201.84 138.18,206.22 138.9,198.63 139.62,202.56 140.33,205.85 141.05,198.32 141.77,203.27 142.48,205.38 143.2,198.12 143.92,203.96 144.63,204.83 145.35,198.04 146.07,204.6 146.78,204.21 147.5,198.08 148.22,205.18 148.93,203.53 149.65,198.23 150.37,205.69 151.08,202.83 151.8,198.5 152.52,206.09 153.23,202.11 153.95,198.88 154.67,206.4 155.38,201.4 156.1,199.36 156.82,206.59 157.53,200.71 158.25,199.91 158.97,206.67 159.68,200.07 160.4,200.54 161.12,206.63 161.83,199.49 162.55,201.21 163.27,206.46 163.98,199 164.7,201.92 165.42,206.19 166.13,198.59 166.85,202.64 167.57,205.8 168.28,198.29 169,203.35 169.72,205.32 170.43,198.11 171.15,204.03 171.87,204.76 172.58,198.04 173.3,204.67 174.02,204.14 174.73,198.09 175.45,205.24 176.17,203.46 176.88,198.26 177.6,205.73 178.32,202.75 179.03,198.54 179.75,206.13 180.47,202.03 181.18,198.93 181.9,206.43 182.62,201.32 183.33,199.41 184.05,206.61 184.77,200.64 185.48,199.98 186.2,206.67 186.92,200.01 187.63,200.61 188.35,206.61 189.07,199.44 189.78,201.29 190.5,206.44 191.22,198.95 191.93,202 192.65,206.15 193.37,198.56 194.08,202.72 194.8,205.76 195.52,198.27 196.23,203.43 196.95,205.27 197.67,198.09 198.38,204.1 199.1,204.7 199.82,198.04 200.53,204.74 201.25,204.06 201.97,198.1 202.68,205.3" fill="none" stroke="#ff0000" stroke-width="1" stroke-linejoin="round"/>
<rect x="205.5" y="195.39" width="177.5" height="13.92" fill="#000000" opacity="0.3"/>
<path d="M206 195.39V209.32M208.15 195.39V209.32M210.3 195.39V209.32M212.45 195.39V209.32M214.6 195.39V209.32M216.75 195.39V209.32M218.9 195.39V209.32M221.05 195.39V209.32M223.2 195.39V209.32M225.35 195.39V209.32M227.5 195.39V209.32M229.65 195.39V209.32M231.8 195.39V209.32M233.95 195.39V209.32M236.1 195.39V209.32M238.25 195.39V209.32M240.4 195.39V209.32M242.55 195.39V209.32M244.7 195.39V209.32M246.85 195.39V209.32M249 195.39V209.32M251.15 195.39V209.32M253.3 195.39V209.32M255.45 195.39V209.32M257.6 195.39V209.32M259.75 195.39V209.32M261.9 195.39V209.32M264.05 195.39V209.32M266.2 195.39V209.32M268.35 195.39V209.32M270.5 195.39V209.32M272.65 195.39V209.32M274.8 195.39V209.32M276.95 195.39V209.32M279.1 195.39V209.32M281.25 195.39V209.32M283.4 195.39V209.32M285.55 195.39V209.32M287.7 195.39V209.32M289.85 195.39V209.32M292 195.39V209.32M294.15 195.39V209.32M296.3 195.39V209.32M298.45 195.39V209.32M300.6 195.39V209.32M302.75 195.39V209.32M304.9 195.39V209.32M307.05 195.39V209.32M309.2 195.39V209.32M311.35 195.39V209.32M313.5 195.39V209.32M315.65 195.39V209.32M317.8 195.39V209.32M319.95 195.39V209.32M322.1 195.39V209.32M324.25 195.39V209.32M326.4 195.39V209.32M328.55 195.39V209.32M330.7 195.39V209.32M332.85 195.39V209.32M335 195.39V209.32M337.15 195.39V209.32M339.3 195.39V209.32M341.45 195.39V209.32M343.6 195.39V209.32M345.75 195.39V209.32M347.9 195.39V209.32M350.05 195.39V209.32M352.2 195.39V209.32M354.35 195.39V209.32M356.5 195.39V209.32M358.65 195.39V209.32M360.8 195.39V209.32M362.95 195.39V209.32M365.1 195.39V209.32M367.25 195.39V209.32M369.4 195.39V209.32M371.55 195.39V209.32M373.7 195.39V209.32M375.85 195.39V209.32M378 195.39V209.32M380.15 195.39V209.32M382.3 195.39V209.32" fill="none" stroke="#000000" stroke-width="0.9"/>
<polyline points="205.5,202.69 206.22,198.57 206.93,206.16 207.65,201.97 208.37,198.97 209.08,206.45 209.8,201.26 210.52,199.46 211.23,206.62 211.95,200.58 212.67,200.03 213.38,206.67 214.1,199.95 214.82,200.66 215.53,206.6 216.25,199.39 216.97,201.35 217.68,206.42 218.4,198.91 219.12,202.06 219.83,206.12 220.55,198.53 221.27,202.78 221.98,205.72 222.7,198.25 223.42,203.48 224.13,205.22 224.85,198.08 225.57,204.16 226.28,204.65 227,198.04 227.72,204.79 228.43,204.01 229.15,198.11 229.87,205.34 230.58,203.32 231.3,198.3 232.02,205.82 232.73,202.61 233.45,198.61 234.17,206.2 234.88,201.89 235.6,199.02 236.32,206.47 237.03,201.19 237.75,199.52 238.47,206.63 239.18,200.51 239.9,200.1 240.62,206.67 241.33,199.89 242.05,200.74 242.77,206.59 243.48,199.34 244.2,201.42 244.92,206.39 245.63,198.87 246.35,202.14 247.07,206.08 247.78,198.49 248.5,202.86 249.22,205.67 249.93,198.23 250.65,203.56 251.37,205.16 252.08,198.07 252.8,204.23 253.52,204.58 254.23,198.04 254.95,204.85 255.67,203.93 256.38,198.13 257.1,205.4 257.82,203.25 258.53,198.33 259.25,205.87 259.97,202.53 260.68,198.65 261.4,206.23 262.12,201.81 262.83,199.07 263.55,206.49 264.27,201.11 264.98,199.58 265.7,206.64 266.42,200.44 267.13,200.16 267.85,206.67 268.57,199.83 269.28,200.81 270,206.57 270.72,199.28 271.43,201.5 272.15,206.36 272.87,198.82 273.58,202.21 274.3,206.04 275.02,198.46 275.73,202.93 276.45,205.62 277.17,198.2 277.88,203.63 278.6,205.1 279.32,198.06 280.03,204.3 280.75,204.51 281.47,198.04 282.18,204.91 282.9,203.86 283.62,198.14 284.33,205.46 285.05,203.17 285.77,198.36 286.48,205.91 287.2,202.45 287.92,198.69 288.63,206.27 289.35,201.74 290.07,199.12 290.78,206.52 291.5,201.04 292.22,199.64 292.93,206.65 293.65,200.37 294.37,200.23 295.08,206.66 295.8,199.76 296.52,200.88 297.23,206.56 297.95,199.23 298.67,201.58 299.38,206.33 300.1,198.78 300.82,202.29 301.53,206 302.25,198.42 302.97,203.01 303.68,205.57 304.4,198.18 305.12,203.71 305.83,205.04 306.55,198.06 307.27,204.37 307.98,204.44 308.7,198.05 309.42,204.98 310.13,203.79 310.85,198.16 311.57,205.51 312.28,203.09 313,198.39 313.72,205.95 314.43,202.38 315.15,198.73 315.87,206.3 316.58,201.66 317.3,199.17 318.02,206.54 318.73,200.96 319.45,199.7 320.17,206.66 320.88,200.3 321.6,200.3 322.32,206.66 323.03,199.7 323.75,200.96 324.47,206.54 325.18,199.17 325.9,201.65 326.62,206.3 327.33,198.73 328.05,202.37 328.77,205.96 329.48,198.39 330.2,203.09 330.92,205.51 331.63,198.16 332.35,203.78 333.07,204.98 333.78,198.05 334.5,204.44 335.22,204.38 335.93,198.06 336.65,205.04 337.37,203.71 338.08,198.18 338.8,205.56 339.52,203.02 340.23,198.42 340.95,206 341.67,202.3 342.38,198.77 343.1,206.33 343.82,201.58 344.53,199.22 345.25,206.55 345.97,200.89 346.68,199.76 347.4,206.66 348.12,200.23 348.83,200.37 349.55,206.65 350.27,199.64 350.98,201.03 351.7,206.52 352.42,199.12 353.13,201.73 353.85,206.27 354.57,198.69 355.28,202.45 356,205.91 356.72,198.36 357.43,203.16 358.15,205.46 358.87,198.15 359.58,203.86 360.3,204.92 361.02,198.04 361.73,204.51 362.45,204.31 363.17,198.06 363.88,205.1 364.6,203.64 365.32,198.2 366.03,205.61 366.75,202.94 367.47,198.46 368.18,206.04 368.9,202.22 369.62,198.82 370.33,206.36 371.05,201.51 371.77,199.28 372.48,206.57 373.2,200.81 373.92,199.82 374.63,206.67 375.35,200.17 376.07,200.44 376.78,206.64 377.5,199.58 378.22,201.11 378.93,206.5 379.65,199.07 380.37,201.81 381.08,206.24 381.8,198.65 382.52,202.53" fill="none" stroke="#000000" stroke-width="1" stroke-linejoin="round"/>
<rect x="203.9" y="240" width="179.1" height="15.93" fill="#ff0000" opacity="0.3"/>
<path d="M204.4 240V255.93M206.55 240V255.93M208.7 240V255.93M210.85 240V255.93M213 240V255.93M215.15 240V255.93M217.3 240V255.93M219.45 240V255.93M221.6 240V255.93M223.75 240V255.93M225.9 240V255.93M228.05 240V255.93M230.2 240V255.93M232.35 240V255.93M234.5 240V255.93M236.65 240V255.93M238.8 240V255.93M240.95 240V255.93M243.1 240V255.93M245.25 240V255.93M247.4 240V255.93M249.55 240V255.93M251.7 240V255.93M253.85 240V255.93M256 240V255.93M258.15 240V255.93M260.3 240V255.93M262.45 240V255.93M264.6 240V255.93M266.75 240V255.93M268.9 240V255.93M271.05 240V255.93M273.2 240V255.93M275.35 240V255.93M277.5 240V255.93M279.65 240V255.93M281.8 240V255.93M283.95 240V255.93M286.1 240V255.93M288.25 240V255.93M290.4 240V255.93M292.55 240V255.93M294.7 240V255.93M296.85 240V255.93M299 240V255.93M301.15 240V255.93M303.3 240V255.93M305.45 240V255.93M307.6 240V255.93M309.75 240V255.93M311.9 240V255.93M314.05 240V255.93M316.2 240V255.93M318.35 240V255.93M320.5 240V255.93M322.65 240V255.93M324.8 240V255.93M326.95 240V255.93M329.1 240V255.93M331.25 240V255.93M333.4 240V255.93M335.55 240V255.93M337.7 240V255.93M339.85 240V255.93M342 240V255.93M344.15 240V255.93M346.3 240V255.93M348.45 240V255.93M350.6 240V255.93M352.75 240V255.93M354.9 240V255.93M357.05 240V255.93M359.2 240V255.93M361.35 240V255.93M363.5 240V255.93M365.65 240V255.93M367.8 240V255.93M369.95 240V255.93M372.1 240V255.93M374.25 240V255.93M376.4 240V255.93M378.55 240V255.93M380.7 240V255.93M382.85 240V255.93" fill="none" stroke="#ff0000" stroke-width="0.9"/>
<polyline points="203.9,248.95 204.62,243.37 205.33,252 206.05,248.13 206.77,243.74 207.48,252.41 208.2,247.31 208.92,244.22 209.63,252.71 210.35,246.51 211.07,244.81 211.78,252.87 212.5,245.74 213.22,245.48 213.93,252.89 214.65,245.04 215.37,246.22 216.08,252.78 216.8,244.42 217.52,247.02 218.23,252.53 218.95,243.9 219.67,247.83 220.38,252.16 221.1,243.49 221.82,248.65 222.53,251.67 223.25,243.2 223.97,249.46 224.68,251.08 225.4,243.05 226.12,250.22 226.83,250.4 227.55,243.03 228.27,250.92 228.98,249.66 229.7,243.15 230.42,251.53 231.13,248.86 231.85,243.4 232.57,252.05 233.28,248.04 234,243.78 234.72,252.45 235.43,247.22 236.15,244.28 236.87,252.73 237.58,246.42 238.3,244.88 239.02,252.88 239.73,245.67 240.45,245.56 241.17,252.89 241.88,244.97 242.6,246.31 243.32,252.76 244.03,244.36 244.75,247.1 245.47,252.5 246.18,243.85 246.9,247.92 247.62,252.11 248.33,243.45 249.05,248.74 249.77,251.61 250.48,243.18 251.2,249.54 251.92,251.01 252.63,243.04 253.35,250.3 254.07,250.32 254.78,243.04 255.5,250.99 256.22,249.57 256.93,243.17 257.65,251.59 258.37,248.77 259.08,243.44 259.8,252.1 260.52,247.95 261.23,243.83 261.95,252.49 262.67,247.13 263.38,244.34 264.1,252.75 264.82,246.34 265.53,244.95 266.25,252.88 266.97,245.59 267.68,245.64 268.4,252.88 269.12,244.9 269.83,246.39 270.55,252.74 271.27,244.3 271.98,247.19 272.7,252.46 273.42,243.8 274.13,248.01 274.85,252.07 275.57,243.42 276.28,248.83 277,251.55 277.72,243.16 278.43,249.63 279.15,250.94 279.87,243.03 280.58,250.37 281.3,250.25 282.02,243.05 282.73,251.06 283.45,249.49 284.17,243.2 284.88,251.65 285.6,248.69 286.32,243.48 287.03,252.15 287.75,247.87 288.47,243.88 289.18,252.52 289.9,247.05 290.62,244.4 291.33,252.77 292.05,246.25 292.77,245.02 293.48,252.89 294.2,245.51 294.92,245.72 295.63,252.87 296.35,244.83 297.07,246.48 297.78,252.71 298.5,244.24 299.22,247.28 299.93,252.43 300.65,243.75 301.37,248.1 302.08,252.02 302.8,243.38 303.52,248.92 304.23,251.49 304.95,243.14 305.67,249.71 306.38,250.87 307.1,243.03 307.82,250.45 308.53,250.17 309.25,243.06 309.97,251.13 310.68,249.4 311.4,243.22 312.12,251.71 312.83,248.6 313.55,243.51 314.27,252.19 314.98,247.78 315.7,243.93 316.42,252.56 317.13,246.96 317.85,244.46 318.57,252.79 319.28,246.17 320,245.09 320.72,252.9 321.43,245.43 322.15,245.8 322.87,252.86 323.58,244.76 324.3,246.56 325.02,252.69 325.73,244.18 326.45,247.37 327.17,252.39 327.88,243.71 328.6,248.19 329.32,251.96 330.03,243.35 330.75,249.01 331.47,251.43 332.18,243.12 332.9,249.79 333.62,250.8 334.33,243.03 335.05,250.53 335.77,250.09 336.48,243.07 337.2,251.19 337.92,249.32 338.63,243.25 339.35,251.77 340.07,248.51 340.78,243.55 341.5,252.24 342.22,247.69 342.93,243.98 343.65,252.59 344.37,246.87 345.08,244.53 345.8,252.81 346.52,246.09 347.23,245.16 347.95,252.9 348.67,245.35 349.38,245.88 350.1,252.85 350.82,244.69 351.53,246.65 352.25,252.66 352.97,244.13 353.68,247.46 354.4,252.35 355.12,243.66 355.83,248.28 356.55,251.91 357.27,243.32 357.98,249.09 358.7,251.36 359.42,243.1 360.13,249.88 360.85,250.72 361.57,243.02 362.28,250.6 363,250 363.72,243.08 364.43,251.26 365.15,249.23 365.87,243.27 366.58,251.82 367.3,248.42 368.02,243.59 368.73,252.28 369.45,247.6 370.17,244.04 370.88,252.62 371.6,246.78 372.32,244.59 373.03,252.83 373.75,246.01 374.47,245.24 375.18,252.9 375.9,245.28 376.62,245.96 377.33,252.83 378.05,244.63 378.77,246.74 379.48,252.64 380.2,244.07 380.92,247.55 381.63,252.31 382.35,243.62" fill="none" stroke="#ff0000" stroke-width="1" stroke-linejoin="round"/>
<polyline points="203,207.9 203,182.53" fill="none" stroke="#9a9a9a" stroke-width="1.3" />
<polyline points="203.3,248.02 203.5,241.53 203.6,237.21 203.7,233.37 203.8,229.95 203.9,226.91 204,224.21 204.1,221.81 204.2,219.68 204.3,217.78 204.4,216.1 204.5,214.6 204.6,213.26 204.7,212.08 204.8,211.03 204.9,210.09 205,209.26 205.1,208.52 205.2,207.86 205.3,207.28 205.4,206.76 205.5,206.29 205.6,205.88 205.7,205.52 205.8,205.19 205.9,204.9 206,204.65 206.1,204.42 206.2,204.22 206.3,204.03 206.4,203.87 206.5,203.73 206.6,203.61 206.7,203.49 206.8,203.39" fill="none" stroke="#000000" stroke-width="1.25" />
<polyline points="202.7,202 203.1,207.9 203.4,217.34 203.5,222.44 203.6,226.69 203.7,230.24 203.8,233.19 203.9,235.66 204,237.71 204.1,239.43 204.2,240.86 204.3,242.05 204.4,243.04 204.5,243.87 204.6,244.56 204.7,245.13 204.8,245.61 204.9,246.01 205,246.35 205.1,246.63 205.2,246.86 205.3,247.05 205.4,247.21 205.5,247.35 205.6,247.46 205.7,247.55 205.8,247.63 205.9,247.69 206,247.75 206.1,247.79 206.2,247.83 206.3,247.86" fill="none" stroke="#ff0000" stroke-width="1.15" />
<rect x="125.5" y="172.5" width="258" height="118" fill="none" stroke="#000" stroke-width="1" shape-rendering="crispEdges"/>
<path d="M125.5 290.5v-4.5M125.5 172.5v4.5M151.5 290.5v-2.5M151.5 172.5v2.5M177.5 290.5v-4.5M177.5 172.5v4.5M202.5 290.5v-2.5M202.5 172.5v2.5M228.5 290.5v-4.5M228.5 172.5v4.5M254.5 290.5v-2.5M254.5 172.5v2.5M280.5 290.5v-4.5M280.5 172.5v4.5M306.5 290.5v-2.5M306.5 172.5v2.5M331.5 290.5v-4.5M331.5 172.5v4.5M357.5 290.5v-2.5M357.5 172.5v2.5M383.5 290.5v-4.5M383.5 172.5v4.5M125.5 290.5h4.5M383.5 290.5h-4.5M125.5 284.5h2.5M383.5 284.5h-2.5M125.5 278.5h4.5M383.5 278.5h-4.5M125.5 272.5h2.5M383.5 272.5h-2.5M125.5 266.5h4.5M383.5 266.5h-4.5M125.5 261.5h2.5M383.5 261.5h-2.5M125.5 255.5h4.5M383.5 255.5h-4.5M125.5 249.5h2.5M383.5 249.5h-2.5M125.5 243.5h4.5M383.5 243.5h-4.5M125.5 237.5h2.5M383.5 237.5h-2.5M125.5 231.5h4.5M383.5 231.5h-4.5M125.5 225.5h2.5M383.5 225.5h-2.5M125.5 219.5h4.5M383.5 219.5h-4.5M125.5 213.5h2.5M383.5 213.5h-2.5M125.5 207.5h4.5M383.5 207.5h-4.5M125.5 202.5h2.5M383.5 202.5h-2.5M125.5 196.5h4.5M383.5 196.5h-4.5M125.5 190.5h2.5M383.5 190.5h-2.5M125.5 184.5h4.5M383.5 184.5h-4.5M125.5 178.5h2.5M383.5 178.5h-2.5M125.5 172.5h4.5M383.5 172.5h-4.5" stroke="#000" stroke-width="1" fill="none" shape-rendering="crispEdges"/>
<rect x="211.5" y="259.5" width="68" height="25" fill="#fff" stroke="#000" stroke-width="1" shape-rendering="crispEdges"/>
<path d="M216 266.5h22" stroke="#000" stroke-width="1" shape-rendering="crispEdges"/>
<path d="M216 278.5h22" stroke="#b41414" stroke-width="1" shape-rendering="crispEdges"/>
</g>
<g>
<polyline points="450,227.37 526.9,227.37" fill="none" stroke="#000000" stroke-width="1.2" />
<polyline points="450,226.22 451.07,228.52 452.15,226.22 453.22,228.52 454.3,226.22 455.37,228.52 456.45,226.22 457.52,228.52 458.6,226.22 459.67,228.52 460.75,226.22 461.82,228.52 462.9,226.22 463.97,228.52 465.05,226.22 466.12,228.52 467.2,226.22 468.27,228.52 469.35,226.22 470.42,228.52 471.5,226.22 472.57,228.52 473.65,226.22 474.72,228.52 475.8,226.22 476.87,228.52 477.95,226.22 479.02,228.52 480.1,226.22 481.17,228.52 482.25,226.22 483.32,228.52 484.4,226.22 485.47,228.52 486.55,226.22 487.62,228.52 488.7,226.22 489.77,228.52 490.85,226.22 491.92,228.52 493,226.22 494.07,228.52 495.15,226.22 496.22,228.52 497.3,226.22 498.37,228.52 499.45,226.22 500.52,228.52 501.6,226.22 502.67,228.52 503.75,226.22 504.82,228.52 505.9,226.22 506.97,228.52 508.05,226.22 509.12,228.52 510.2,226.22 511.27,228.52 512.35,226.22 513.42,228.52 514.5,226.22 515.57,228.52 516.65,226.22 517.72,228.52 518.8,226.22 519.87,228.52 520.95,226.22 522.02,228.52 523.1,226.22 524.17,228.52 525.25,226.22 526.32,228.52" fill="none" stroke="#000000" stroke-width="0.85" />
<polyline points="450,260.53 526.9,260.53" fill="none" stroke="#e61616" stroke-width="1.5" />
<polyline points="450,259.93 451.07,261.13 452.15,259.93 453.22,261.13 454.3,259.93 455.37,261.13 456.45,259.93 457.52,261.13 458.6,259.93 459.67,261.13 460.75,259.93 461.82,261.13 462.9,259.93 463.97,261.13 465.05,259.93 466.12,261.13 467.2,259.93 468.27,261.13 469.35,259.93 470.42,261.13 471.5,259.93 472.57,261.13 473.65,259.93 474.72,261.13 475.8,259.93 476.87,261.13 477.95,259.93 479.02,261.13 480.1,259.93 481.17,261.13 482.25,259.93 483.32,261.13 484.4,259.93 485.47,261.13 486.55,259.93 487.62,261.13 488.7,259.93 489.77,261.13 490.85,259.93 491.92,261.13 493,259.93 494.07,261.13 495.15,259.93 496.22,261.13 497.3,259.93 498.37,261.13 499.45,259.93 500.52,261.13 501.6,259.93 502.67,261.13 503.75,259.93 504.82,261.13 505.9,259.93 506.97,261.13 508.05,259.93 509.12,261.13 510.2,259.93 511.27,261.13 512.35,259.93 513.42,261.13 514.5,259.93 515.57,261.13 516.65,259.93 517.72,261.13 518.8,259.93 519.87,261.13 520.95,259.93 522.02,261.13 523.1,259.93 524.17,261.13 525.25,259.93 526.32,261.13" fill="none" stroke="#e61616" stroke-width="0.8" />
<polyline points="450,189.85 526.9,189.85" fill="none" stroke="#1c1ca8" stroke-width="1.4" />
<polyline points="450,189.5 451.07,190.2 452.15,189.5 453.22,190.2 454.3,189.5 455.37,190.2 456.45,189.5 457.52,190.2 458.6,189.5 459.67,190.2 460.75,189.5 461.82,190.2 462.9,189.5 463.97,190.2 465.05,189.5 466.12,190.2 467.2,189.5 468.27,190.2 469.35,189.5 470.42,190.2 471.5,189.5 472.57,190.2 473.65,189.5 474.72,190.2 475.8,189.5 476.87,190.2 477.95,189.5 479.02,190.2 480.1,189.5 481.17,190.2 482.25,189.5 483.32,190.2 484.4,189.5 485.47,190.2 486.55,189.5 487.62,190.2 488.7,189.5 489.77,190.2 490.85,189.5 491.92,190.2 493,189.5 494.07,190.2 495.15,189.5 496.22,190.2 497.3,189.5 498.37,190.2 499.45,189.5 500.52,190.2 501.6,189.5 502.67,190.2 503.75,189.5 504.82,190.2 505.9,189.5 506.97,190.2 508.05,189.5 509.12,190.2 510.2,189.5 511.27,190.2 512.35,189.5 513.42,190.2 514.5,189.5 515.57,190.2 516.65,189.5 517.72,190.2 518.8,189.5 519.87,190.2 520.95,189.5 522.02,190.2 523.1,189.5 524.17,190.2 525.25,189.5 526.32,190.2" fill="none" stroke="#1c1ca8" stroke-width="0.6" />
<rect x="527.7" y="234.45" width="179.3" height="5.9" fill="#000000" opacity="1.0"/>
<path d="M528.2 231.5V243.3M530.35 231.5V243.3M532.5 231.5V243.3M534.65 231.5V243.3M536.8 231.5V243.3M538.95 231.5V243.3M541.1 231.5V243.3M543.25 231.5V243.3M545.4 231.5V243.3M547.55 231.5V243.3M549.7 231.5V243.3M551.85 231.5V243.3M554 231.5V243.3M556.15 231.5V243.3M558.3 231.5V243.3M560.45 231.5V243.3M562.6 231.5V243.3M564.75 231.5V243.3M566.9 231.5V243.3M569.05 231.5V243.3M571.2 231.5V243.3M573.35 231.5V243.3M575.5 231.5V243.3M577.65 231.5V243.3M579.8 231.5V243.3M581.95 231.5V243.3M584.1 231.5V243.3M586.25 231.5V243.3M588.4 231.5V243.3M590.55 231.5V243.3M592.7 231.5V243.3M594.85 231.5V243.3M597 231.5V243.3M599.15 231.5V243.3M601.3 231.5V243.3M603.45 231.5V243.3M605.6 231.5V243.3M607.75 231.5V243.3M609.9 231.5V243.3M612.05 231.5V243.3M614.2 231.5V243.3M616.35 231.5V243.3M618.5 231.5V243.3M620.65 231.5V243.3M622.8 231.5V243.3M624.95 231.5V243.3M627.1 231.5V243.3M629.25 231.5V243.3M631.4 231.5V243.3M633.55 231.5V243.3M635.7 231.5V243.3M637.85 231.5V243.3M640 231.5V243.3M642.15 231.5V243.3M644.3 231.5V243.3M646.45 231.5V243.3M648.6 231.5V243.3M650.75 231.5V243.3M652.9 231.5V243.3M655.05 231.5V243.3M657.2 231.5V243.3M659.35 231.5V243.3M661.5 231.5V243.3M663.65 231.5V243.3M665.8 231.5V243.3M667.95 231.5V243.3M670.1 231.5V243.3M672.25 231.5V243.3M674.4 231.5V243.3M676.55 231.5V243.3M678.7 231.5V243.3M680.85 231.5V243.3M683 231.5V243.3M685.15 231.5V243.3M687.3 231.5V243.3M689.45 231.5V243.3M691.6 231.5V243.3M693.75 231.5V243.3M695.9 231.5V243.3M698.05 231.5V243.3M700.2 231.5V243.3M702.35 231.5V243.3M704.5 231.5V243.3M706.65 231.5V243.3" fill="none" stroke="#000000" stroke-width="0.9"/>
<rect x="527.7" y="236.22" width="179.3" height="24.54" fill="#ff0000" opacity="0.3"/>
<path d="M528.2 236.22V260.76M530.35 236.22V260.76M532.5 236.22V260.76M534.65 236.22V260.76M536.8 236.22V260.76M538.95 236.22V260.76M541.1 236.22V260.76M543.25 236.22V260.76M545.4 236.22V260.76M547.55 236.22V260.76M549.7 236.22V260.76M551.85 236.22V260.76M554 236.22V260.76M556.15 236.22V260.76M558.3 236.22V260.76M560.45 236.22V260.76M562.6 236.22V260.76M564.75 236.22V260.76M566.9 236.22V260.76M569.05 236.22V260.76M571.2 236.22V260.76M573.35 236.22V260.76M575.5 236.22V260.76M577.65 236.22V260.76M579.8 236.22V260.76M581.95 236.22V260.76M584.1 236.22V260.76M586.25 236.22V260.76M588.4 236.22V260.76M590.55 236.22V260.76M592.7 236.22V260.76M594.85 236.22V260.76M597 236.22V260.76M599.15 236.22V260.76M601.3 236.22V260.76M603.45 236.22V260.76M605.6 236.22V260.76M607.75 236.22V260.76M609.9 236.22V260.76M612.05 236.22V260.76M614.2 236.22V260.76M616.35 236.22V260.76M618.5 236.22V260.76M620.65 236.22V260.76M622.8 236.22V260.76M624.95 236.22V260.76M627.1 236.22V260.76M629.25 236.22V260.76M631.4 236.22V260.76M633.55 236.22V260.76M635.7 236.22V260.76M637.85 236.22V260.76M640 236.22V260.76M642.15 236.22V260.76M644.3 236.22V260.76M646.45 236.22V260.76M648.6 236.22V260.76M650.75 236.22V260.76M652.9 236.22V260.76M655.05 236.22V260.76M657.2 236.22V260.76M659.35 236.22V260.76M661.5 236.22V260.76M663.65 236.22V260.76M665.8 236.22V260.76M667.95 236.22V260.76M670.1 236.22V260.76M672.25 236.22V260.76M674.4 236.22V260.76M676.55 236.22V260.76M678.7 236.22V260.76M680.85 236.22V260.76M683 236.22V260.76M685.15 236.22V260.76M687.3 236.22V260.76M689.45 236.22V260.76M691.6 236.22V260.76M693.75 236.22V260.76M695.9 236.22V260.76M698.05 236.22V260.76M700.2 236.22V260.76M702.35 236.22V260.76M704.5 236.22V260.76M706.65 236.22V260.76" fill="none" stroke="#ff0000" stroke-width="0.9"/>
<rect x="527.7" y="241.53" width="179.3" height="12.15" fill="#ff0000" opacity="1.0"/>
<rect x="527.7" y="218.87" width="179.3" height="29.38" fill="#0000ff" opacity="0.25"/>
<path d="M528.5 218.87V248.26M530.65 218.87V248.26M532.8 218.87V248.26M534.95 218.87V248.26M537.1 218.87V248.26M539.25 218.87V248.26M541.4 218.87V248.26M543.55 218.87V248.26M545.7 218.87V248.26M547.85 218.87V248.26M550 218.87V248.26M552.15 218.87V248.26M554.3 218.87V248.26M556.45 218.87V248.26M558.6 218.87V248.26M560.75 218.87V248.26M562.9 218.87V248.26M565.05 218.87V248.26M567.2 218.87V248.26M569.35 218.87V248.26M571.5 218.87V248.26M573.65 218.87V248.26M575.8 218.87V248.26M577.95 218.87V248.26M580.1 218.87V248.26M582.25 218.87V248.26M584.4 218.87V248.26M586.55 218.87V248.26M588.7 218.87V248.26M590.85 218.87V248.26M593 218.87V248.26M595.15 218.87V248.26M597.3 218.87V248.26M599.45 218.87V248.26M601.6 218.87V248.26M603.75 218.87V248.26M605.9 218.87V248.26M608.05 218.87V248.26M610.2 218.87V248.26M612.35 218.87V248.26M614.5 218.87V248.26M616.65 218.87V248.26M618.8 218.87V248.26M620.95 218.87V248.26M623.1 218.87V248.26M625.25 218.87V248.26M627.4 218.87V248.26M629.55 218.87V248.26M631.7 218.87V248.26M633.85 218.87V248.26M636 218.87V248.26M638.15 218.87V248.26M640.3 218.87V248.26M642.45 218.87V248.26M644.6 218.87V248.26M646.75 218.87V248.26M648.9 218.87V248.26M651.05 218.87V248.26M653.2 218.87V248.26M655.35 218.87V248.26M657.5 218.87V248.26M659.65 218.87V248.26M661.8 218.87V248.26M663.95 218.87V248.26M666.1 218.87V248.26M668.25 218.87V248.26M670.4 218.87V248.26M672.55 218.87V248.26M674.7 218.87V248.26M676.85 218.87V248.26M679 218.87V248.26M681.15 218.87V248.26M683.3 218.87V248.26M685.45 218.87V248.26M687.6 218.87V248.26M689.75 218.87V248.26M691.9 218.87V248.26M694.05 218.87V248.26M696.2 218.87V248.26M698.35 218.87V248.26M700.5 218.87V248.26M702.65 218.87V248.26M704.8 218.87V248.26M706.95 218.87V248.26" fill="none" stroke="#0000ff" stroke-width="0.95"/>
<rect x="527.7" y="223.83" width="179.3" height="14.16" fill="#0000ff" opacity="1.0"/>
<rect x="527.7" y="220.64" width="179.3" height="20.89" fill="#0000ff" opacity="0.68"/>
<rect x="527.7" y="241.53" width="179.3" height="6.25" fill="#0000ff" opacity="0.74"/>
<path d="M528.3 219.7V235.04M532.66 219.7V235.04M537.03 219.7V235.04M541.39 219.7V235.04M545.76 219.7V235.04M550.12 219.7V235.04M554.49 219.7V235.04M558.85 219.7V235.04M563.22 219.7V235.04M567.58 219.7V235.04M571.95 219.7V235.04M576.31 219.7V235.04M580.67 219.7V235.04M585.04 219.7V235.04M589.4 219.7V235.04M593.77 219.7V235.04M598.13 219.7V235.04M602.5 219.7V235.04M606.86 219.7V235.04M611.23 219.7V235.04M615.59 219.7V235.04M619.95 219.7V235.04M624.32 219.7V235.04M628.68 219.7V235.04M633.05 219.7V235.04M637.41 219.7V235.04M641.78 219.7V235.04M646.14 219.7V235.04M650.51 219.7V235.04M654.87 219.7V235.04M659.24 219.7V235.04M663.6 219.7V235.04M667.96 219.7V235.04M672.33 219.7V235.04M676.69 219.7V235.04M681.06 219.7V235.04M685.42 219.7V235.04M689.79 219.7V235.04M694.15 219.7V235.04M698.52 219.7V235.04M702.88 219.7V235.04" fill="none" stroke="#0000b0" stroke-width="0.5"/>
<polyline points="526.9,189.49 527.4,217.34 527.9,219.7" fill="none" stroke="#3c3cf5" stroke-width="1.1" />
<polyline points="526.9,260.53 527.3,239.76 527.9,248.02" fill="none" stroke="#ff0000" stroke-width="1.0" />
<rect x="449.5" y="172.5" width="258" height="118" fill="none" stroke="#000" stroke-width="1" shape-rendering="crispEdges"/>
<path d="M449.5 290.5v-4.5M449.5 172.5v4.5M475.5 290.5v-2.5M475.5 172.5v2.5M501.5 290.5v-4.5M501.5 172.5v4.5M526.5 290.5v-2.5M526.5 172.5v2.5M552.5 290.5v-4.5M552.5 172.5v4.5M578.5 290.5v-2.5M578.5 172.5v2.5M604.5 290.5v-4.5M604.5 172.5v4.5M630.5 290.5v-2.5M630.5 172.5v2.5M655.5 290.5v-4.5M655.5 172.5v4.5M681.5 290.5v-2.5M681.5 172.5v2.5M707.5 290.5v-4.5M707.5 172.5v4.5M449.5 290.5h4.5M707.5 290.5h-4.5M449.5 284.5h2.5M707.5 284.5h-2.5M449.5 278.5h4.5M707.5 278.5h-4.5M449.5 272.5h2.5M707.5 272.5h-2.5M449.5 266.5h4.5M707.5 266.5h-4.5M449.5 261.5h2.5M707.5 261.5h-2.5M449.5 255.5h4.5M707.5 255.5h-4.5M449.5 249.5h2.5M707.5 249.5h-2.5M449.5 243.5h4.5M707.5 243.5h-4.5M449.5 237.5h2.5M707.5 237.5h-2.5M449.5 231.5h4.5M707.5 231.5h-4.5M449.5 225.5h2.5M707.5 225.5h-2.5M449.5 219.5h4.5M707.5 219.5h-4.5M449.5 213.5h2.5M707.5 213.5h-2.5M449.5 207.5h4.5M707.5 207.5h-4.5M449.5 202.5h2.5M707.5 202.5h-2.5M449.5 196.5h4.5M707.5 196.5h-4.5M449.5 190.5h2.5M707.5 190.5h-2.5M449.5 184.5h4.5M707.5 184.5h-4.5M449.5 178.5h2.5M707.5 178.5h-2.5M449.5 172.5h4.5M707.5 172.5h-4.5" stroke="#000" stroke-width="1" fill="none" shape-rendering="crispEdges"/>
<rect x="476.5" y="174.5" width="193" height="13" fill="#fff" stroke="#000" stroke-width="1" shape-rendering="crispEdges"/>
<path d="M482 181.5h22" stroke="#000" stroke-width="1" shape-rendering="crispEdges"/>
<path d="M543 181.5h22" stroke="#b41414" stroke-width="1" shape-rendering="crispEdges"/>
<path d="M604 181.5h22" stroke="#14149a" stroke-width="1" shape-rendering="crispEdges"/>
</g>
<g>
<rect x="126" y="403.57" width="76.9" height="16.06" fill="#000000" opacity="0.3"/>
<path d="M126.5 403.57V419.63M128.65 403.57V419.63M130.8 403.57V419.63M132.95 403.57V419.63M135.1 403.57V419.63M137.25 403.57V419.63M139.4 403.57V419.63M141.55 403.57V419.63M143.7 403.57V419.63M145.85 403.57V419.63M148 403.57V419.63M150.15 403.57V419.63M152.3 403.57V419.63M154.45 403.57V419.63M156.6 403.57V419.63M158.75 403.57V419.63M160.9 403.57V419.63M163.05 403.57V419.63M165.2 403.57V419.63M167.35 403.57V419.63M169.5 403.57V419.63M171.65 403.57V419.63M173.8 403.57V419.63M175.95 403.57V419.63M178.1 403.57V419.63M180.25 403.57V419.63M182.4 403.57V419.63M184.55 403.57V419.63M186.7 403.57V419.63M188.85 403.57V419.63M191 403.57V419.63M193.15 403.57V419.63M195.3 403.57V419.63M197.45 403.57V419.63M199.6 403.57V419.63M201.75 403.57V419.63" fill="none" stroke="#000000" stroke-width="0.9"/>
<polyline points="126,411.41 126.72,407.54 127.43,416.24 128.15,410.58 128.87,408.08 129.58,416.47 130.3,409.79 131.02,408.71 131.73,416.58 132.45,409.04 133.17,409.42 133.88,416.54 134.6,408.37 135.32,410.2 136.03,416.37 136.75,407.79 137.47,411.01 138.18,416.06 138.9,407.31 139.62,411.84 140.33,415.63 141.05,406.95 141.77,412.66 142.48,415.09 143.2,406.72 143.92,413.45 144.63,414.45 145.35,406.62 146.07,414.2 146.78,413.74 147.5,406.67 148.22,414.87 148.93,412.96 149.65,406.85 150.37,415.44 151.08,412.15 151.8,407.16 152.52,415.92 153.23,411.32 153.95,407.59 154.67,416.27 155.38,410.5 156.1,408.14 156.82,416.49 157.53,409.71 158.25,408.78 158.97,416.58 159.68,408.97 160.4,409.5 161.12,416.53 161.83,408.3 162.55,410.28 163.27,416.34 163.98,407.73 164.7,411.1 165.42,416.02 166.13,407.26 166.85,411.93 167.57,415.58 168.28,406.92 169,412.75 169.72,415.03 170.43,406.7 171.15,413.54 171.87,414.38 172.58,406.62 173.3,414.27 174.02,413.66 174.73,406.68 175.45,414.93 176.17,412.87 176.88,406.87 177.6,415.5 178.32,412.06 179.03,407.2 179.75,415.96 180.47,411.23 181.18,407.65 181.9,416.3 182.62,410.41 183.33,408.21 184.05,416.51 184.77,409.62 185.48,408.86 186.2,416.58 186.92,408.89 187.63,409.59 188.35,416.51 189.07,408.23 189.78,410.37 190.5,416.31 191.22,407.67 191.93,411.19 192.65,415.98 193.37,407.22 194.08,412.02 194.8,415.52 195.52,406.89 196.23,412.84 196.95,414.96 197.67,406.69 198.38,413.62 199.1,414.3 199.82,406.62 200.53,414.35 201.25,413.57 201.97,406.69 202.68,415" fill="none" stroke="#000000" stroke-width="1" stroke-linejoin="round"/>
<rect x="126" y="358.59" width="76.9" height="14.04" fill="#ff0000" opacity="0.3"/>
<path d="M126.5 358.59V372.63M128.65 358.59V372.63M130.8 358.59V372.63M132.95 358.59V372.63M135.1 358.59V372.63M137.25 358.59V372.63M139.4 358.59V372.63M141.55 358.59V372.63M143.7 358.59V372.63M145.85 358.59V372.63M148 358.59V372.63M150.15 358.59V372.63M152.3 358.59V372.63M154.45 358.59V372.63M156.6 358.59V372.63M158.75 358.59V372.63M160.9 358.59V372.63M163.05 358.59V372.63M165.2 358.59V372.63M167.35 358.59V372.63M169.5 358.59V372.63M171.65 358.59V372.63M173.8 358.59V372.63M175.95 358.59V372.63M178.1 358.59V372.63M180.25 358.59V372.63M182.4 358.59V372.63M184.55 358.59V372.63M186.7 358.59V372.63M188.85 358.59V372.63M191 358.59V372.63M193.15 358.59V372.63M195.3 358.59V372.63M197.45 358.59V372.63M199.6 358.59V372.63M201.75 358.59V372.63" fill="none" stroke="#ff0000" stroke-width="0.9"/>
<polyline points="126,365.44 126.72,362.06 127.43,369.66 128.15,364.72 128.87,362.53 129.58,369.87 130.3,364.02 131.02,363.08 131.73,369.96 132.45,363.37 133.17,363.7 133.88,369.93 134.6,362.78 135.32,364.38 136.03,369.77 136.75,362.27 137.47,365.09 138.18,369.51 138.9,361.85 139.62,365.82 140.33,369.13 141.05,361.54 141.77,366.53 142.48,368.66 143.2,361.34 143.92,367.23 144.63,368.1 145.35,361.26 146.07,367.88 146.78,367.47 147.5,361.29 148.22,368.46 148.93,366.8 149.65,361.45 150.37,368.97 151.08,366.08 151.8,361.72 152.52,369.38 153.23,365.36 153.95,362.11 154.67,369.69 155.38,364.64 156.1,362.58 156.82,369.88 157.53,363.95 158.25,363.14 158.97,369.96 159.68,363.31 160.4,363.77 161.12,369.91 161.83,362.72 162.55,364.46 163.27,369.75 163.98,362.22 164.7,365.17 165.42,369.47 166.13,361.81 166.85,365.89 167.57,369.09 168.28,361.51 169,366.61 169.72,368.6 170.43,361.32 171.15,367.3 171.87,368.04 172.58,361.25 173.3,367.94 174.02,367.4 174.73,361.31 175.45,368.52 176.17,366.72 176.88,361.48 177.6,369.02 178.32,366.01 179.03,361.76 179.75,369.42 180.47,365.28 181.18,362.15 181.9,369.71 182.62,364.56 183.33,362.64 184.05,369.9 184.77,363.88 185.48,363.21 186.2,369.96 186.92,363.24 187.63,363.85 188.35,369.9 189.07,362.67 189.78,364.53 190.5,369.73 191.22,362.17 191.93,365.25 192.65,369.43 193.37,361.78 194.08,365.97 194.8,369.04 195.52,361.49 196.23,366.69 196.95,368.54 197.67,361.31 198.38,367.37 199.1,367.97 199.82,361.25 200.53,368.01 201.25,367.33 201.97,361.32 202.68,368.58" fill="none" stroke="#ff0000" stroke-width="1" stroke-linejoin="round"/>
<rect x="205.5" y="358.59" width="74.8" height="14.04" fill="#000000" opacity="0.3"/>
<path d="M206 358.59V372.63M208.15 358.59V372.63M210.3 358.59V372.63M212.45 358.59V372.63M214.6 358.59V372.63M216.75 358.59V372.63M218.9 358.59V372.63M221.05 358.59V372.63M223.2 358.59V372.63M225.35 358.59V372.63M227.5 358.59V372.63M229.65 358.59V372.63M231.8 358.59V372.63M233.95 358.59V372.63M236.1 358.59V372.63M238.25 358.59V372.63M240.4 358.59V372.63M242.55 358.59V372.63M244.7 358.59V372.63M246.85 358.59V372.63M249 358.59V372.63M251.15 358.59V372.63M253.3 358.59V372.63M255.45 358.59V372.63M257.6 358.59V372.63M259.75 358.59V372.63M261.9 358.59V372.63M264.05 358.59V372.63M266.2 358.59V372.63M268.35 358.59V372.63M270.5 358.59V372.63M272.65 358.59V372.63M274.8 358.59V372.63M276.95 358.59V372.63M279.1 358.59V372.63" fill="none" stroke="#000000" stroke-width="0.9"/>
<polyline points="205.5,365.94 206.22,361.79 206.93,369.45 207.65,365.22 208.37,362.19 209.08,369.73 209.8,364.5 210.52,362.69 211.23,369.91 211.95,363.82 212.67,363.26 213.38,369.96 214.1,363.19 214.82,363.9 215.53,369.89 216.25,362.62 216.97,364.59 217.68,369.71 218.4,362.14 219.12,365.31 219.83,369.4 220.55,361.75 221.27,366.03 221.98,369 222.7,361.47 223.42,366.75 224.13,368.5 224.85,361.3 225.57,367.43 226.28,367.92 227,361.25 227.72,368.06 228.43,367.27 229.15,361.33 229.87,368.62 230.58,366.58 231.3,361.52 232.02,369.1 232.73,365.87 233.45,361.83 234.17,369.48 234.88,365.14 235.6,362.24 236.32,369.76 237.03,364.43 237.75,362.74 238.47,369.92 239.18,363.75 239.9,363.33 240.62,369.96 241.33,363.12 242.05,363.98 242.77,369.88 243.48,362.56 244.2,364.67 244.92,369.68 245.63,362.09 246.35,365.39 247.07,369.37 247.78,361.71 248.5,366.11 249.22,368.95 249.93,361.44 250.65,366.82 251.37,368.44 252.08,361.29 252.8,367.5 253.52,367.85 254.23,361.26 254.95,368.12 255.67,367.2 256.38,361.34 257.1,368.68 257.82,366.51 258.53,361.55 259.25,369.15 259.97,365.79 260.68,361.87 261.4,369.52 262.12,365.06 262.83,362.29 263.55,369.78 264.27,364.35 264.98,362.8 265.7,369.93 266.42,363.68 267.13,363.4 267.85,369.96 268.57,363.06 269.28,364.05 270,369.86 270.72,362.51 271.43,364.75 272.15,369.65 272.87,362.04 273.58,365.47 274.3,369.33 275.02,361.68 275.73,366.19 276.45,368.9 277.17,361.42 277.88,366.9 278.6,368.38 279.32,361.28 280.03,367.57" fill="none" stroke="#000000" stroke-width="1" stroke-linejoin="round"/>
<rect x="203.9" y="403.57" width="76.4" height="16.06" fill="#ff0000" opacity="0.3"/>
<path d="M204.4 403.57V419.63M206.55 403.57V419.63M208.7 403.57V419.63M210.85 403.57V419.63M213 403.57V419.63M215.15 403.57V419.63M217.3 403.57V419.63M219.45 403.57V419.63M221.6 403.57V419.63M223.75 403.57V419.63M225.9 403.57V419.63M228.05 403.57V419.63M230.2 403.57V419.63M232.35 403.57V419.63M234.5 403.57V419.63M236.65 403.57V419.63M238.8 403.57V419.63M240.95 403.57V419.63M243.1 403.57V419.63M245.25 403.57V419.63M247.4 403.57V419.63M249.55 403.57V419.63M251.7 403.57V419.63M253.85 403.57V419.63M256 403.57V419.63M258.15 403.57V419.63M260.3 403.57V419.63M262.45 403.57V419.63M264.6 403.57V419.63M266.75 403.57V419.63M268.9 403.57V419.63M271.05 403.57V419.63M273.2 403.57V419.63M275.35 403.57V419.63M277.5 403.57V419.63M279.65 403.57V419.63" fill="none" stroke="#ff0000" stroke-width="0.9"/>
<polyline points="203.9,412.6 204.62,406.97 205.33,415.67 206.05,411.77 206.77,407.34 207.48,416.09 208.2,410.95 208.92,407.83 209.63,416.39 210.35,410.14 211.07,408.42 211.78,416.55 212.5,409.37 213.22,409.1 213.93,416.57 214.65,408.66 215.37,409.85 216.08,416.46 216.8,408.03 217.52,410.65 218.23,416.21 218.95,407.5 219.67,411.47 220.38,415.84 221.1,407.09 221.82,412.3 222.53,415.34 223.25,406.8 223.97,413.11 224.68,414.75 225.4,406.65 226.12,413.88 226.83,414.06 227.55,406.63 228.27,414.58 228.98,413.31 229.7,406.75 230.42,415.2 231.13,412.51 231.85,407.01 232.57,415.72 233.28,411.68 234,407.39 234.72,416.13 235.43,410.86 236.15,407.89 236.87,416.41 237.58,410.05 238.3,408.49 239.02,416.56 239.73,409.29 240.45,409.18 241.17,416.57 241.88,408.59 242.6,409.93 243.32,416.44 244.03,407.97 244.75,410.74 245.47,416.18 246.18,407.45 246.9,411.56 247.62,415.79 248.33,407.05 249.05,412.39 249.77,415.28 250.48,406.78 251.2,413.19 251.92,414.68 252.63,406.64 253.35,413.96 254.07,413.98 254.78,406.64 255.5,414.65 256.22,413.22 256.93,406.77 257.65,415.26 258.37,412.42 259.08,407.04 259.8,415.77 260.52,411.59 261.23,407.44 261.95,416.17 262.67,410.77 263.38,407.95 264.1,416.43 264.82,409.96 265.53,408.56 266.25,416.57 266.97,409.21 267.68,409.26 268.4,416.56 269.12,408.51 269.83,410.02 270.55,416.42 271.27,407.91 271.98,410.82 272.7,416.14 273.42,407.4 274.13,411.65 274.85,415.74 275.57,407.02 276.28,412.48 277,415.22 277.72,406.76 278.43,413.28 279.15,414.61 279.87,406.63" fill="none" stroke="#ff0000" stroke-width="1" stroke-linejoin="round"/>
<rect x="281.3" y="403.57" width="76.4" height="16.06" fill="#000000" opacity="0.3"/>
<path d="M281.8 403.57V419.63M283.95 403.57V419.63M286.1 403.57V419.63M288.25 403.57V419.63M290.4 403.57V419.63M292.55 403.57V419.63M294.7 403.57V419.63M296.85 403.57V419.63M299 403.57V419.63M301.15 403.57V419.63M303.3 403.57V419.63M305.45 403.57V419.63M307.6 403.57V419.63M309.75 403.57V419.63M311.9 403.57V419.63M314.05 403.57V419.63M316.2 403.57V419.63M318.35 403.57V419.63M320.5 403.57V419.63M322.65 403.57V419.63M324.8 403.57V419.63M326.95 403.57V419.63M329.1 403.57V419.63M331.25 403.57V419.63M333.4 403.57V419.63M335.55 403.57V419.63M337.7 403.57V419.63M339.85 403.57V419.63M342 403.57V419.63M344.15 403.57V419.63M346.3 403.57V419.63M348.45 403.57V419.63M350.6 403.57V419.63M352.75 403.57V419.63M354.9 403.57V419.63M357.05 403.57V419.63" fill="none" stroke="#000000" stroke-width="0.9"/>
<polyline points="281.3,413.9 282.02,406.64 282.73,414.72 283.45,413.14 284.17,406.79 284.88,415.32 285.6,412.33 286.32,407.08 287.03,415.82 287.75,411.5 288.47,407.49 289.18,416.2 289.9,410.68 290.62,408.01 291.33,416.45 292.05,409.88 292.77,408.63 293.48,416.57 294.2,409.13 294.92,409.34 295.63,416.55 296.35,408.44 297.07,410.1 297.78,416.39 298.5,407.85 299.22,410.91 299.93,416.1 300.65,407.36 301.37,411.74 302.08,415.69 302.8,406.98 303.52,412.57 304.23,415.16 304.95,406.74 305.67,413.36 306.38,414.53 307.1,406.63 307.82,414.11 308.53,413.82 309.25,406.65 309.97,414.79 310.68,413.05 311.4,406.82 312.12,415.38 312.83,412.24 313.55,407.12 314.27,415.87 314.98,411.41 315.7,407.54 316.42,416.23 317.13,410.59 317.85,408.07 318.57,416.47 319.28,409.79 320,408.7 320.72,416.58 321.43,409.05 322.15,409.42 322.87,416.54 323.58,408.37 324.3,410.19 325.02,416.37 325.73,407.79 326.45,411 327.17,416.07 327.88,407.31 328.6,411.83 329.32,415.64 330.03,406.95 330.75,412.65 331.47,415.1 332.18,406.72 332.9,413.45 333.62,414.46 334.33,406.62 335.05,414.19 335.77,413.74 336.48,406.67 337.2,414.86 337.92,412.97 338.63,406.84 339.35,415.44 340.07,412.15 340.78,407.16 341.5,415.91 342.22,411.32 342.93,407.59 343.65,416.27 344.37,410.5 345.08,408.14 345.8,416.49 346.52,409.71 347.23,408.78 347.95,416.58 348.67,408.97 349.38,409.5 350.1,416.53 350.82,408.31 351.53,410.28 352.25,416.34 352.97,407.73 353.68,411.09 354.4,416.02 355.12,407.27 355.83,411.92 356.55,415.58 357.27,406.92" fill="none" stroke="#000000" stroke-width="1" stroke-linejoin="round"/>
<rect x="282.9" y="358.59" width="74.8" height="14.04" fill="#ff0000" opacity="0.3"/>
<path d="M283.4 358.59V372.63M285.55 358.59V372.63M287.7 358.59V372.63M289.85 358.59V372.63M292 358.59V372.63M294.15 358.59V372.63M296.3 358.59V372.63M298.45 358.59V372.63M300.6 358.59V372.63M302.75 358.59V372.63M304.9 358.59V372.63M307.05 358.59V372.63M309.2 358.59V372.63M311.35 358.59V372.63M313.5 358.59V372.63M315.65 358.59V372.63M317.8 358.59V372.63M319.95 358.59V372.63M322.1 358.59V372.63M324.25 358.59V372.63M326.4 358.59V372.63M328.55 358.59V372.63M330.7 358.59V372.63M332.85 358.59V372.63M335 358.59V372.63M337.15 358.59V372.63M339.3 358.59V372.63M341.45 358.59V372.63M343.6 358.59V372.63M345.75 358.59V372.63M347.9 358.59V372.63M350.05 358.59V372.63M352.2 358.59V372.63M354.35 358.59V372.63M356.5 358.59V372.63" fill="none" stroke="#ff0000" stroke-width="0.9"/>
<polyline points="282.9,367.13 283.62,361.36 284.33,368.73 285.05,366.43 285.77,361.58 286.48,369.19 287.2,365.71 287.92,361.91 288.63,369.55 289.35,364.98 290.07,362.34 290.78,369.8 291.5,364.28 292.22,362.87 292.93,369.94 293.65,363.61 294.37,363.46 295.08,369.95 295.8,362.99 296.52,364.12 297.23,369.84 297.95,362.45 298.67,364.82 299.38,369.62 300.1,362 300.82,365.55 301.53,369.28 302.25,361.64 302.97,366.27 303.68,368.85 304.4,361.4 305.12,366.97 305.83,368.32 306.55,361.27 307.27,367.64 307.98,367.71 308.7,361.27 309.42,368.25 310.13,367.05 310.85,361.38 311.57,368.79 312.28,366.35 313,361.61 313.72,369.24 314.43,365.63 315.15,361.95 315.87,369.59 316.58,364.91 317.3,362.39 318.02,369.82 318.73,364.2 319.45,362.93 320.17,369.94 320.88,363.54 321.6,363.53 322.32,369.95 323.03,362.93 323.75,364.2 324.47,369.83 325.18,362.4 325.9,364.9 326.62,369.59 327.33,361.95 328.05,365.62 328.77,369.24 329.48,361.61 330.2,366.35 330.92,368.79 331.63,361.38 332.35,367.05 333.07,368.26 333.78,361.27 334.5,367.71 335.22,367.65 335.93,361.27 336.65,368.31 337.37,366.98 338.08,361.4 338.8,368.84 339.52,366.27 340.23,361.64 340.95,369.28 341.67,365.55 342.38,362 343.1,369.62 343.82,364.83 344.53,362.45 345.25,369.84 345.97,364.13 346.68,362.99 347.4,369.95 348.12,363.47 348.83,363.6 349.55,369.94 350.27,362.87 350.98,364.27 351.7,369.81 352.42,362.35 353.13,364.98 353.85,369.56 354.57,361.91 355.28,365.7 356,369.2 356.72,361.58 357.43,366.42" fill="none" stroke="#ff0000" stroke-width="1" stroke-linejoin="round"/>
<rect x="360.3" y="358.59" width="22.7" height="14.04" fill="#000000" opacity="0.3"/>
<path d="M360.8 358.59V372.63M362.95 358.59V372.63M365.1 358.59V372.63M367.25 358.59V372.63M369.4 358.59V372.63M371.55 358.59V372.63M373.7 358.59V372.63M375.85 358.59V372.63M378 358.59V372.63M380.15 358.59V372.63M382.3 358.59V372.63" fill="none" stroke="#000000" stroke-width="0.9"/>
<polyline points="360.3,368.19 361.02,361.26 361.73,367.78 362.45,367.58 363.17,361.28 363.88,368.37 364.6,366.9 365.32,361.42 366.03,368.89 366.75,366.2 367.47,361.68 368.18,369.32 368.9,365.47 369.62,362.04 370.33,369.65 371.05,364.75 371.77,362.5 372.48,369.86 373.2,364.05 373.92,363.05 374.63,369.96 375.35,363.4 376.07,363.67 376.78,369.93 377.5,362.81 378.22,364.35 378.93,369.78 379.65,362.29 380.37,365.06 381.08,369.52 381.8,361.87 382.52,365.78" fill="none" stroke="#000000" stroke-width="1" stroke-linejoin="round"/>
<rect x="358.7" y="403.57" width="24.3" height="16.06" fill="#ff0000" opacity="0.3"/>
<path d="M359.2 403.57V419.63M361.35 403.57V419.63M363.5 403.57V419.63M365.65 403.57V419.63M367.8 403.57V419.63M369.95 403.57V419.63M372.1 403.57V419.63M374.25 403.57V419.63M376.4 403.57V419.63M378.55 403.57V419.63M380.7 403.57V419.63M382.85 403.57V419.63" fill="none" stroke="#ff0000" stroke-width="0.9"/>
<polyline points="358.7,415.03 359.42,406.7 360.13,413.53 360.85,414.39 361.57,406.62 362.28,414.27 363,413.66 363.72,406.68 364.43,414.93 365.15,412.88 365.87,406.87 366.58,415.5 367.3,412.06 368.02,407.2 368.73,415.96 369.45,411.23 370.17,407.64 370.88,416.3 371.6,410.41 372.32,408.2 373.03,416.51 373.75,409.63 374.47,408.85 375.18,416.58 375.9,408.9 376.62,409.58 377.33,416.52 378.05,408.24 378.77,410.36 379.48,416.31 380.2,407.68 380.92,411.18 381.63,415.98 382.35,407.22" fill="none" stroke="#ff0000" stroke-width="1" stroke-linejoin="round"/>
<polyline points="203,371.2 203,345.62" fill="none" stroke="#9a9a9a" stroke-width="1.3" />
<polyline points="203.3,411.66 203.5,405.12 203.6,400.76 203.7,396.88 203.8,393.44 203.9,390.37 204,387.65 204.1,385.23 204.2,383.08 204.3,381.17 204.4,379.47 204.5,377.95 204.6,376.61 204.7,375.42 204.8,374.35 204.9,373.41 205,372.57 205.1,371.82 205.2,371.16 205.3,370.57 205.4,370.05 205.5,369.58 205.6,369.16 205.7,368.8 205.8,368.47 205.9,368.18 206,367.92 206.1,367.69 206.2,367.48 206.3,367.3 206.4,367.14 206.5,367 206.6,366.87 206.7,366.76 206.8,366.65" fill="none" stroke="#000000" stroke-width="1.25" />
<polyline points="202.7,365.25 203.1,371.2 203.4,380.72 203.5,385.86 203.6,390.15 203.7,393.73 203.8,396.71 203.9,399.19 204,401.27 204.1,402.99 204.2,404.44 204.3,405.64 204.4,406.64 204.5,407.47 204.6,408.17 204.7,408.75 204.8,409.23 204.9,409.64 205,409.97 205.1,410.25 205.2,410.49 205.3,410.68 205.4,410.84 205.5,410.98 205.6,411.09 205.7,411.19 205.8,411.27 205.9,411.33 206,411.39 206.1,411.43 206.2,411.47 206.3,411.5" fill="none" stroke="#ff0000" stroke-width="1.15" />
<polyline points="280.1,365.25 280.5,371.2 280.8,380.72 280.9,385.86 281,390.15 281.1,393.73 281.2,396.71 281.3,399.19 281.4,401.27 281.5,402.99 281.6,404.44 281.7,405.64 281.8,406.64 281.9,407.47 282,408.17 282.1,408.75 282.2,409.23 282.3,409.64 282.4,409.97 282.5,410.25 282.6,410.49 282.7,410.68 282.8,410.84 282.9,410.98 283,411.09 283.1,411.19 283.2,411.27 283.3,411.33 283.4,411.39 283.5,411.43 283.6,411.47 283.7,411.5" fill="none" stroke="#000000" stroke-width="1.15" />
<polyline points="280.4,411.66 280.4,345.62" fill="none" stroke="#ff0000" stroke-width="1.0" />
<polyline points="280.7,411.66 280.9,405.12 281,400.76 281.1,396.88 281.2,393.44 281.3,390.37 281.4,387.65 281.5,385.23 281.6,383.08 281.7,381.17 281.8,379.47 281.9,377.95 282,376.61 282.1,375.42 282.2,374.35 282.3,373.41 282.4,372.57 282.5,371.82 282.6,371.16 282.7,370.57 282.8,370.05 282.9,369.58 283,369.16 283.1,368.8 283.2,368.47 283.3,368.18 283.4,367.92 283.5,367.69 283.6,367.48 283.7,367.3 283.8,367.14 283.9,367 284,366.87 284.1,366.76 284.2,366.65" fill="none" stroke="#ff0000" stroke-width="1.25" />
<polyline points="357.8,411.66 357.8,345.62" fill="none" stroke="#000000" stroke-width="1.0" />
<polyline points="358.1,411.66 358.3,405.12 358.4,400.76 358.5,396.88 358.6,393.44 358.7,390.37 358.8,387.65 358.9,385.23 359,383.08 359.1,381.17 359.2,379.47 359.3,377.95 359.4,376.61 359.5,375.42 359.6,374.35 359.7,373.41 359.8,372.57 359.9,371.82 360,371.16 360.1,370.57 360.2,370.05 360.3,369.58 360.4,369.16 360.5,368.8 360.6,368.47 360.7,368.18 360.8,367.92 360.9,367.69 361,367.48 361.1,367.3 361.2,367.14 361.3,367 361.4,366.87 361.5,366.76 361.6,366.65" fill="none" stroke="#000000" stroke-width="1.25" />
<polyline points="357.5,365.25 357.9,371.2 358.2,380.72 358.3,385.86 358.4,390.15 358.5,393.73 358.6,396.71 358.7,399.19 358.8,401.27 358.9,402.99 359,404.44 359.1,405.64 359.2,406.64 359.3,407.47 359.4,408.17 359.5,408.75 359.6,409.23 359.7,409.64 359.8,409.97 359.9,410.25 360,410.49 360.1,410.68 360.2,410.84 360.3,410.98 360.4,411.09 360.5,411.19 360.6,411.27 360.7,411.33 360.8,411.39 360.9,411.43 361,411.47 361.1,411.5" fill="none" stroke="#ff0000" stroke-width="1.15" />
<rect x="125.5" y="335.5" width="258" height="119" fill="none" stroke="#000" stroke-width="1" shape-rendering="crispEdges"/>
<path d="M125.5 454.5v-4.5M125.5 335.5v4.5M151.5 454.5v-2.5M151.5 335.5v2.5M177.5 454.5v-4.5M177.5 335.5v4.5M202.5 454.5v-2.5M202.5 335.5v2.5M228.5 454.5v-4.5M228.5 335.5v4.5M254.5 454.5v-2.5M254.5 335.5v2.5M280.5 454.5v-4.5M280.5 335.5v4.5M306.5 454.5v-2.5M306.5 335.5v2.5M331.5 454.5v-4.5M331.5 335.5v4.5M357.5 454.5v-2.5M357.5 335.5v2.5M383.5 454.5v-4.5M383.5 335.5v4.5M125.5 454.5h4.5M383.5 454.5h-4.5M125.5 448.5h2.5M383.5 448.5h-2.5M125.5 442.5h4.5M383.5 442.5h-4.5M125.5 436.5h2.5M383.5 436.5h-2.5M125.5 430.5h4.5M383.5 430.5h-4.5M125.5 424.5h2.5M383.5 424.5h-2.5M125.5 418.5h4.5M383.5 418.5h-4.5M125.5 412.5h2.5M383.5 412.5h-2.5M125.5 406.5h4.5M383.5 406.5h-4.5M125.5 400.5h2.5M383.5 400.5h-2.5M125.5 395.5h4.5M383.5 395.5h-4.5M125.5 389.5h2.5M383.5 389.5h-2.5M125.5 383.5h4.5M383.5 383.5h-4.5M125.5 377.5h2.5M383.5 377.5h-2.5M125.5 371.5h4.5M383.5 371.5h-4.5M125.5 365.5h2.5M383.5 365.5h-2.5M125.5 359.5h4.5M383.5 359.5h-4.5M125.5 353.5h2.5M383.5 353.5h-2.5M125.5 347.5h4.5M383.5 347.5h-4.5M125.5 341.5h2.5M383.5 341.5h-2.5M125.5 335.5h4.5M383.5 335.5h-4.5" stroke="#000" stroke-width="1" fill="none" shape-rendering="crispEdges"/>
<rect x="210.5" y="423.5" width="67" height="25" fill="#fff" stroke="#000" stroke-width="1" shape-rendering="crispEdges"/>
<path d="M214 430.5h22" stroke="#000" stroke-width="1" shape-rendering="crispEdges"/>
<path d="M214 442.5h22" stroke="#b41414" stroke-width="1" shape-rendering="crispEdges"/>
</g>
<g>
<polyline points="450,390.83 526.9,390.83" fill="none" stroke="#000000" stroke-width="1.3" />
<polyline points="450,389.69 451.07,391.98 452.15,389.69 453.22,391.98 454.3,389.69 455.37,391.98 456.45,389.69 457.52,391.98 458.6,389.69 459.67,391.98 460.75,389.69 461.82,391.98 462.9,389.69 463.97,391.98 465.05,389.69 466.12,391.98 467.2,389.69 468.27,391.98 469.35,389.69 470.42,391.98 471.5,389.69 472.57,391.98 473.65,389.69 474.72,391.98 475.8,389.69 476.87,391.98 477.95,389.69 479.02,391.98 480.1,389.69 481.17,391.98 482.25,389.69 483.32,391.98 484.4,389.69 485.47,391.98 486.55,389.69 487.62,391.98 488.7,389.69 489.77,391.98 490.85,389.69 491.92,391.98 493,389.69 494.07,391.98 495.15,389.69 496.22,391.98 497.3,389.69 498.37,391.98 499.45,389.69 500.52,391.98 501.6,389.69 502.67,391.98 503.75,389.69 504.82,391.98 505.9,389.69 506.97,391.98 508.05,389.69 509.12,391.98 510.2,389.69 511.27,391.98 512.35,389.69 513.42,391.98 514.5,389.69 515.57,391.98 516.65,389.69 517.72,391.98 518.8,389.69 519.87,391.98 520.95,389.69 522.02,391.98 523.1,389.69 524.17,391.98 525.25,389.69 526.32,391.98" fill="none" stroke="#000000" stroke-width="0.9" />
<polyline points="450,424.04 526.9,424.04" fill="none" stroke="#e01414" stroke-width="1.3" />
<polyline points="450,423.09 451.07,424.99 452.15,423.09 453.22,424.99 454.3,423.09 455.37,424.99 456.45,423.09 457.52,424.99 458.6,423.09 459.67,424.99 460.75,423.09 461.82,424.99 462.9,423.09 463.97,424.99 465.05,423.09 466.12,424.99 467.2,423.09 468.27,424.99 469.35,423.09 470.42,424.99 471.5,423.09 472.57,424.99 473.65,423.09 474.72,424.99 475.8,423.09 476.87,424.99 477.95,423.09 479.02,424.99 480.1,423.09 481.17,424.99 482.25,423.09 483.32,424.99 484.4,423.09 485.47,424.99 486.55,423.09 487.62,424.99 488.7,423.09 489.77,424.99 490.85,423.09 491.92,424.99 493,423.09 494.07,424.99 495.15,423.09 496.22,424.99 497.3,423.09 498.37,424.99 499.45,423.09 500.52,424.99 501.6,423.09 502.67,424.99 503.75,423.09 504.82,424.99 505.9,423.09 506.97,424.99 508.05,423.09 509.12,424.99 510.2,423.09 511.27,424.99 512.35,423.09 513.42,424.99 514.5,423.09 515.57,424.99 516.65,423.09 517.72,424.99 518.8,423.09 519.87,424.99 520.95,423.09 522.02,424.99 523.1,423.09 524.17,424.99 525.25,423.09 526.32,424.99" fill="none" stroke="#e01414" stroke-width="0.9" />
<polyline points="450,352.75 526.9,352.75" fill="none" stroke="#3434ee" stroke-width="1.4" />
<polyline points="450,351.9 451.07,353.61 452.15,351.9 453.22,353.61 454.3,351.9 455.37,353.61 456.45,351.9 457.52,353.61 458.6,351.9 459.67,353.61 460.75,351.9 461.82,353.61 462.9,351.9 463.97,353.61 465.05,351.9 466.12,353.61 467.2,351.9 468.27,353.61 469.35,351.9 470.42,353.61 471.5,351.9 472.57,353.61 473.65,351.9 474.72,353.61 475.8,351.9 476.87,353.61 477.95,351.9 479.02,353.61 480.1,351.9 481.17,353.61 482.25,351.9 483.32,353.61 484.4,351.9 485.47,353.61 486.55,351.9 487.62,353.61 488.7,351.9 489.77,353.61 490.85,351.9 491.92,353.61 493,351.9 494.07,353.61 495.15,351.9 496.22,353.61 497.3,351.9 498.37,353.61 499.45,351.9 500.52,353.61 501.6,351.9 502.67,353.61 503.75,351.9 504.82,353.61 505.9,351.9 506.97,353.61 508.05,351.9 509.12,353.61 510.2,351.9 511.27,353.61 512.35,351.9 513.42,353.61 514.5,351.9 515.57,353.61 516.65,351.9 517.72,353.61 518.8,351.9 519.87,353.61 520.95,351.9 522.02,353.61 523.1,351.9 524.17,353.61 525.25,351.9 526.32,353.61" fill="none" stroke="#3434ee" stroke-width="0.9" />
<rect x="527.7" y="397.98" width="76.6" height="5.95" fill="#000000" opacity="1.0"/>
<path d="M528.2 395V406.9M530.35 395V406.9M532.5 395V406.9M534.65 395V406.9M536.8 395V406.9M538.95 395V406.9M541.1 395V406.9M543.25 395V406.9M545.4 395V406.9M547.55 395V406.9M549.7 395V406.9M551.85 395V406.9M554 395V406.9M556.15 395V406.9M558.3 395V406.9M560.45 395V406.9M562.6 395V406.9M564.75 395V406.9M566.9 395V406.9M569.05 395V406.9M571.2 395V406.9M573.35 395V406.9M575.5 395V406.9M577.65 395V406.9M579.8 395V406.9M581.95 395V406.9M584.1 395V406.9M586.25 395V406.9M588.4 395V406.9M590.55 395V406.9M592.7 395V406.9M594.85 395V406.9M597 395V406.9M599.15 395V406.9M601.3 395V406.9M603.45 395V406.9" fill="none" stroke="#000000" stroke-width="0.9"/>
<rect x="527.7" y="399.76" width="76.6" height="24.75" fill="#ff0000" opacity="0.3"/>
<path d="M528.2 399.76V424.51M530.35 399.76V424.51M532.5 399.76V424.51M534.65 399.76V424.51M536.8 399.76V424.51M538.95 399.76V424.51M541.1 399.76V424.51M543.25 399.76V424.51M545.4 399.76V424.51M547.55 399.76V424.51M549.7 399.76V424.51M551.85 399.76V424.51M554 399.76V424.51M556.15 399.76V424.51M558.3 399.76V424.51M560.45 399.76V424.51M562.6 399.76V424.51M564.75 399.76V424.51M566.9 399.76V424.51M569.05 399.76V424.51M571.2 399.76V424.51M573.35 399.76V424.51M575.5 399.76V424.51M577.65 399.76V424.51M579.8 399.76V424.51M581.95 399.76V424.51M584.1 399.76V424.51M586.25 399.76V424.51M588.4 399.76V424.51M590.55 399.76V424.51M592.7 399.76V424.51M594.85 399.76V424.51M597 399.76V424.51M599.15 399.76V424.51M601.3 399.76V424.51M603.45 399.76V424.51" fill="none" stroke="#ff0000" stroke-width="0.9"/>
<rect x="527.7" y="405.12" width="76.6" height="12.26" fill="#ff0000" opacity="1.0"/>
<rect x="527.7" y="382.27" width="76.6" height="29.63" fill="#0000ff" opacity="0.25"/>
<path d="M528.5 382.27V411.9M530.65 382.27V411.9M532.8 382.27V411.9M534.95 382.27V411.9M537.1 382.27V411.9M539.25 382.27V411.9M541.4 382.27V411.9M543.55 382.27V411.9M545.7 382.27V411.9M547.85 382.27V411.9M550 382.27V411.9M552.15 382.27V411.9M554.3 382.27V411.9M556.45 382.27V411.9M558.6 382.27V411.9M560.75 382.27V411.9M562.9 382.27V411.9M565.05 382.27V411.9M567.2 382.27V411.9M569.35 382.27V411.9M571.5 382.27V411.9M573.65 382.27V411.9M575.8 382.27V411.9M577.95 382.27V411.9M580.1 382.27V411.9M582.25 382.27V411.9M584.4 382.27V411.9M586.55 382.27V411.9M588.7 382.27V411.9M590.85 382.27V411.9M593 382.27V411.9M595.15 382.27V411.9M597.3 382.27V411.9M599.45 382.27V411.9M601.6 382.27V411.9M603.75 382.27V411.9" fill="none" stroke="#0000ff" stroke-width="0.95"/>
<rect x="527.7" y="387.26" width="76.6" height="14.28" fill="#0000ff" opacity="1.0"/>
<rect x="527.7" y="384.05" width="76.6" height="21.06" fill="#0000ff" opacity="0.68"/>
<rect x="527.7" y="405.12" width="76.6" height="6.31" fill="#0000ff" opacity="0.74"/>
<path d="M528.3 383.1V398.57M532.66 383.1V398.57M537.03 383.1V398.57M541.39 383.1V398.57M545.76 383.1V398.57M550.12 383.1V398.57M554.49 383.1V398.57M558.85 383.1V398.57M563.22 383.1V398.57M567.58 383.1V398.57M571.95 383.1V398.57M576.31 383.1V398.57M580.67 383.1V398.57M585.04 383.1V398.57M589.4 383.1V398.57M593.77 383.1V398.57M598.13 383.1V398.57M602.5 383.1V398.57" fill="none" stroke="#0000b0" stroke-width="0.5"/>
<polyline points="526.9,352.64 527.4,380.72 527.9,383.1" fill="none" stroke="#3c3cf5" stroke-width="1.1" />
<polyline points="526.9,424.27 527.3,403.33 527.9,411.66" fill="none" stroke="#ff0000" stroke-width="1.0" />
<polyline points="606.8,390.83 681.7,390.83" fill="none" stroke="#000000" stroke-width="1.3" />
<polyline points="606.8,389.69 607.88,391.98 608.95,389.69 610.03,391.98 611.1,389.69 612.18,391.98 613.25,389.69 614.33,391.98 615.4,389.69 616.48,391.98 617.55,389.69 618.63,391.98 619.7,389.69 620.78,391.98 621.85,389.69 622.93,391.98 624,389.69 625.08,391.98 626.15,389.69 627.23,391.98 628.3,389.69 629.38,391.98 630.45,389.69 631.53,391.98 632.6,389.69 633.68,391.98 634.75,389.69 635.83,391.98 636.9,389.69 637.98,391.98 639.05,389.69 640.13,391.98 641.2,389.69 642.28,391.98 643.35,389.69 644.43,391.98 645.5,389.69 646.58,391.98 647.65,389.69 648.73,391.98 649.8,389.69 650.88,391.98 651.95,389.69 653.03,391.98 654.1,389.69 655.18,391.98 656.25,389.69 657.33,391.98 658.4,389.69 659.48,391.98 660.55,389.69 661.63,391.98 662.7,389.69 663.78,391.98 664.85,389.69 665.93,391.98 667,389.69 668.08,391.98 669.15,389.69 670.23,391.98 671.3,389.69 672.38,391.98 673.45,389.69 674.53,391.98 675.6,389.69 676.68,391.98 677.75,389.69 678.83,391.98 679.9,389.69 680.98,391.98" fill="none" stroke="#000000" stroke-width="0.9" />
<polyline points="604.6,400.95 605.1,395 605.8,392.02 606.9,390.83" fill="none" stroke="#000000" stroke-width="1.1" />
<polyline points="606.8,424.04 681.7,424.04" fill="none" stroke="#e01414" stroke-width="1.3" />
<polyline points="606.8,423.09 607.88,424.99 608.95,423.09 610.03,424.99 611.1,423.09 612.18,424.99 613.25,423.09 614.33,424.99 615.4,423.09 616.48,424.99 617.55,423.09 618.63,424.99 619.7,423.09 620.78,424.99 621.85,423.09 622.93,424.99 624,423.09 625.08,424.99 626.15,423.09 627.23,424.99 628.3,423.09 629.38,424.99 630.45,423.09 631.53,424.99 632.6,423.09 633.68,424.99 634.75,423.09 635.83,424.99 636.9,423.09 637.98,424.99 639.05,423.09 640.13,424.99 641.2,423.09 642.28,424.99 643.35,423.09 644.43,424.99 645.5,423.09 646.58,424.99 647.65,423.09 648.73,424.99 649.8,423.09 650.88,424.99 651.95,423.09 653.03,424.99 654.1,423.09 655.18,424.99 656.25,423.09 657.33,424.99 658.4,423.09 659.48,424.99 660.55,423.09 661.63,424.99 662.7,423.09 663.78,424.99 664.85,423.09 665.93,424.99 667,423.09 668.08,424.99 669.15,423.09 670.23,424.99 671.3,423.09 672.38,424.99 673.45,423.09 674.53,424.99 675.6,423.09 676.68,424.99 677.75,423.09 678.83,424.99 679.9,423.09 680.98,424.99" fill="none" stroke="#e01414" stroke-width="0.9" />
<polyline points="604.3,418.8 604.6,429.51 605.3,426.54 605.9,423.32 606.9,424.27" fill="none" stroke="#ff0000" stroke-width="1.1" />
<polyline points="604.3,406.9 604.5,368.82 604.6,367.99 604.7,367.2 604.8,366.46 604.9,365.75 605,365.08 605.1,364.44 605.2,363.83 605.3,363.26 605.4,362.71 605.5,362.2 605.6,361.71 605.7,361.24 605.8,360.8 605.9,360.38 606,359.98 606.1,359.61 606.2,359.25 606.3,358.91 606.4,358.59 606.5,358.28 606.6,357.99 606.7,357.72 606.8,357.46 606.9,357.21 607,356.98 607.1,356.75 607.2,356.54 607.3,356.34 607.4,356.15 607.5,355.97 607.6,355.8 607.7,355.64 607.8,355.49 607.9,355.34 608,355.2 608.1,355.07 608.2,354.94 608.3,354.83 608.4,354.71 608.5,354.61 608.6,354.51 608.7,354.41 608.8,354.32 608.9,354.23 609,354.15 609.1,354.07 609.2,354 609.3,353.93 609.4,353.86 609.5,353.8 609.6,353.74 609.7,353.68 609.8,353.63 609.9,353.58 610,353.53 610.1,353.49 610.2,353.44 610.3,353.4 610.4,353.36 610.5,353.32 610.6,353.29 610.7,353.26 610.8,353.22 610.9,353.19 611,353.16 611.1,353.14 611.2,353.11 611.3,353.09 611.4,353.06 611.5,353.04 611.6,353.02 611.7,353 611.8,352.98 611.9,352.97 612,352.95 612.1,352.93 612.2,352.92 612.3,352.9 612.4,352.89 612.5,352.88 612.6,352.86 612.7,352.85 612.8,352.84 612.9,352.83 613,352.82 613.1,352.81 613.2,352.8 613.3,352.79 613.4,352.79 681.4,352.64 682,359.3 682.6,383.1" fill="none" stroke="#2626f2" stroke-width="1.35" />
<polyline points="681.7,424.27 682.3,403.33 683,411.66" fill="none" stroke="#ff0000" stroke-width="1.0" />
<rect x="682.9" y="397.98" width="24.1" height="5.95" fill="#000000" opacity="1.0"/>
<path d="M683.4 395V406.9M685.55 395V406.9M687.7 395V406.9M689.85 395V406.9M692 395V406.9M694.15 395V406.9M696.3 395V406.9M698.45 395V406.9M700.6 395V406.9M702.75 395V406.9M704.9 395V406.9" fill="none" stroke="#000000" stroke-width="0.9"/>
<rect x="682.9" y="399.76" width="24.1" height="24.75" fill="#ff0000" opacity="0.3"/>
<path d="M683.4 399.76V424.51M685.55 399.76V424.51M687.7 399.76V424.51M689.85 399.76V424.51M692 399.76V424.51M694.15 399.76V424.51M696.3 399.76V424.51M698.45 399.76V424.51M700.6 399.76V424.51M702.75 399.76V424.51M704.9 399.76V424.51" fill="none" stroke="#ff0000" stroke-width="0.9"/>
<rect x="682.9" y="405.12" width="24.1" height="12.26" fill="#ff0000" opacity="1.0"/>
<rect x="682.9" y="382.27" width="24.1" height="29.63" fill="#0000ff" opacity="0.25"/>
<path d="M683.7 382.27V411.9M685.85 382.27V411.9M688 382.27V411.9M690.15 382.27V411.9M692.3 382.27V411.9M694.45 382.27V411.9M696.6 382.27V411.9M698.75 382.27V411.9M700.9 382.27V411.9M703.05 382.27V411.9M705.2 382.27V411.9" fill="none" stroke="#0000ff" stroke-width="0.95"/>
<rect x="682.9" y="387.26" width="24.1" height="14.28" fill="#0000ff" opacity="1.0"/>
<rect x="682.9" y="384.05" width="24.1" height="21.06" fill="#0000ff" opacity="0.68"/>
<rect x="682.9" y="405.12" width="24.1" height="6.31" fill="#0000ff" opacity="0.74"/>
<path d="M683.5 383.1V398.57M687.86 383.1V398.57M692.23 383.1V398.57M696.59 383.1V398.57M700.96 383.1V398.57M705.32 383.1V398.57" fill="none" stroke="#0000b0" stroke-width="0.5"/>
<rect x="449.5" y="335.5" width="258" height="119" fill="none" stroke="#000" stroke-width="1" shape-rendering="crispEdges"/>
<path d="M449.5 454.5v-4.5M449.5 335.5v4.5M475.5 454.5v-2.5M475.5 335.5v2.5M501.5 454.5v-4.5M501.5 335.5v4.5M526.5 454.5v-2.5M526.5 335.5v2.5M552.5 454.5v-4.5M552.5 335.5v4.5M578.5 454.5v-2.5M578.5 335.5v2.5M604.5 454.5v-4.5M604.5 335.5v4.5M630.5 454.5v-2.5M630.5 335.5v2.5M655.5 454.5v-4.5M655.5 335.5v4.5M681.5 454.5v-2.5M681.5 335.5v2.5M707.5 454.5v-4.5M707.5 335.5v4.5M449.5 454.5h4.5M707.5 454.5h-4.5M449.5 448.5h2.5M707.5 448.5h-2.5M449.5 442.5h4.5M707.5 442.5h-4.5M449.5 436.5h2.5M707.5 436.5h-2.5M449.5 430.5h4.5M707.5 430.5h-4.5M449.5 424.5h2.5M707.5 424.5h-2.5M449.5 418.5h4.5M707.5 418.5h-4.5M449.5 412.5h2.5M707.5 412.5h-2.5M449.5 406.5h4.5M707.5 406.5h-4.5M449.5 400.5h2.5M707.5 400.5h-2.5M449.5 395.5h4.5M707.5 395.5h-4.5M449.5 389.5h2.5M707.5 389.5h-2.5M449.5 383.5h4.5M707.5 383.5h-4.5M449.5 377.5h2.5M707.5 377.5h-2.5M449.5 371.5h4.5M707.5 371.5h-4.5M449.5 365.5h2.5M707.5 365.5h-2.5M449.5 359.5h4.5M707.5 359.5h-4.5M449.5 353.5h2.5M707.5 353.5h-2.5M449.5 347.5h4.5M707.5 347.5h-4.5M449.5 341.5h2.5M707.5 341.5h-2.5M449.5 335.5h4.5M707.5 335.5h-4.5" stroke="#000" stroke-width="1" fill="none" shape-rendering="crispEdges"/>
<rect x="479.5" y="337.5" width="193" height="13" fill="#fff" stroke="#000" stroke-width="1" shape-rendering="crispEdges"/>
<path d="M485 344.5h22" stroke="#000" stroke-width="1" shape-rendering="crispEdges"/>
<path d="M546 344.5h22" stroke="#b41414" stroke-width="1" shape-rendering="crispEdges"/>
<path d="M607 344.5h22" stroke="#14149a" stroke-width="1" shape-rendering="crispEdges"/>
</g>
</svg>
<svg width="796" height="490" viewBox="0 0 796 490" style="position:absolute;left:0;top:0;filter:grayscale(1)">
<text x="122.7" y="129.55" text-anchor="end" class="tk" textLength="11.3" lengthAdjust="spacingAndGlyphs">0.0</text>
<text x="122.7" y="117.71" text-anchor="end" class="tk" textLength="11.3" lengthAdjust="spacingAndGlyphs">0.1</text>
<text x="122.7" y="105.87" text-anchor="end" class="tk" textLength="11.3" lengthAdjust="spacingAndGlyphs">0.2</text>
<text x="122.7" y="94.03" text-anchor="end" class="tk" textLength="11.3" lengthAdjust="spacingAndGlyphs">0.3</text>
<text x="122.7" y="82.19" text-anchor="end" class="tk" textLength="11.3" lengthAdjust="spacingAndGlyphs">0.4</text>
<text x="122.7" y="70.35" text-anchor="end" class="tk" textLength="11.3" lengthAdjust="spacingAndGlyphs">0.5</text>
<text x="122.7" y="58.51" text-anchor="end" class="tk" textLength="11.3" lengthAdjust="spacingAndGlyphs">0.6</text>
<text x="122.7" y="46.67" text-anchor="end" class="tk" textLength="11.3" lengthAdjust="spacingAndGlyphs">0.7</text>
<text x="122.7" y="34.83" text-anchor="end" class="tk" textLength="11.3" lengthAdjust="spacingAndGlyphs">0.8</text>
<text x="122.7" y="22.99" text-anchor="end" class="tk" textLength="11.3" lengthAdjust="spacingAndGlyphs">0.9</text>
<text x="122.7" y="11.15" text-anchor="end" class="tk" textLength="11.3" lengthAdjust="spacingAndGlyphs">1.0</text>
<text x="131.9" y="140" text-anchor="middle" class="tk" textLength="23.7" lengthAdjust="spacingAndGlyphs">50000</text>
<text x="183.5" y="140" text-anchor="middle" class="tk" textLength="23.7" lengthAdjust="spacingAndGlyphs">60000</text>
<text x="235.1" y="140" text-anchor="middle" class="tk" textLength="23.7" lengthAdjust="spacingAndGlyphs">70000</text>
<text x="286.7" y="140" text-anchor="middle" class="tk" textLength="23.7" lengthAdjust="spacingAndGlyphs">80000</text>
<text x="338.3" y="140" text-anchor="middle" class="tk" textLength="23.7" lengthAdjust="spacingAndGlyphs">90000</text>
<text x="389.9" y="140" text-anchor="middle" class="tk" textLength="28.2" lengthAdjust="spacingAndGlyphs">100000</text>
<text transform="translate(105.6 68.5) rotate(-90)" text-anchor="middle" class="ax" textLength="58.5" lengthAdjust="spacingAndGlyphs">Concentration</text>
<text x="260.9" y="150.45" text-anchor="middle" class="ax2" textLength="18.4" lengthAdjust="spacingAndGlyphs">Step</text>
<text x="241.2" y="102.9" class="lg">Node <tspan class="os">4</tspan></text>
<text x="241.2" y="115.1" class="lg">Node <tspan class="os" dy="0.8">5</tspan></text>
<text x="447.7" y="131.45" text-anchor="end" class="tk" textLength="11.3" lengthAdjust="spacingAndGlyphs">0.0</text>
<text x="447.7" y="119.52" text-anchor="end" class="tk" textLength="11.3" lengthAdjust="spacingAndGlyphs">0.1</text>
<text x="447.7" y="107.58" text-anchor="end" class="tk" textLength="11.3" lengthAdjust="spacingAndGlyphs">0.2</text>
<text x="447.7" y="95.65" text-anchor="end" class="tk" textLength="11.3" lengthAdjust="spacingAndGlyphs">0.3</text>
<text x="447.7" y="83.71" text-anchor="end" class="tk" textLength="11.3" lengthAdjust="spacingAndGlyphs">0.4</text>
<text x="447.7" y="71.78" text-anchor="end" class="tk" textLength="11.3" lengthAdjust="spacingAndGlyphs">0.5</text>
<text x="447.7" y="59.84" text-anchor="end" class="tk" textLength="11.3" lengthAdjust="spacingAndGlyphs">0.6</text>
<text x="447.7" y="47.91" text-anchor="end" class="tk" textLength="11.3" lengthAdjust="spacingAndGlyphs">0.7</text>
<text x="447.7" y="35.97" text-anchor="end" class="tk" textLength="11.3" lengthAdjust="spacingAndGlyphs">0.8</text>
<text x="447.7" y="24.04" text-anchor="end" class="tk" textLength="11.3" lengthAdjust="spacingAndGlyphs">0.9</text>
<text x="447.7" y="12.1" text-anchor="end" class="tk" textLength="11.3" lengthAdjust="spacingAndGlyphs">1.0</text>
<text x="446.9" y="139.9" text-anchor="middle" class="tk" textLength="23.7" lengthAdjust="spacingAndGlyphs">50000</text>
<text x="498.5" y="139.9" text-anchor="middle" class="tk" textLength="23.7" lengthAdjust="spacingAndGlyphs">60000</text>
<text x="550.1" y="139.9" text-anchor="middle" class="tk" textLength="23.7" lengthAdjust="spacingAndGlyphs">70000</text>
<text x="601.7" y="139.9" text-anchor="middle" class="tk" textLength="23.7" lengthAdjust="spacingAndGlyphs">80000</text>
<text x="653.3" y="139.9" text-anchor="middle" class="tk" textLength="23.7" lengthAdjust="spacingAndGlyphs">90000</text>
<text x="704.9" y="139.9" text-anchor="middle" class="tk" textLength="28.2" lengthAdjust="spacingAndGlyphs">100000</text>
<text transform="translate(430.4 68.5) rotate(-90)" text-anchor="middle" class="ax" textLength="58.5" lengthAdjust="spacingAndGlyphs">Concentration</text>
<text x="575.8" y="150.3" text-anchor="middle" class="ax2" textLength="18.4" lengthAdjust="spacingAndGlyphs">Step</text>
<text x="508.2" y="21.8" class="lg">Node <tspan class="os">6</tspan></text>
<text x="569.2" y="21.8" class="lg">Node <tspan class="os">7</tspan></text>
<text x="630.2" y="21.8" class="lg">Node <tspan class="os">8</tspan></text>
<text x="79.6" y="18.8" class="pl">A</text>
<text x="122.7" y="294.55" text-anchor="end" class="tk" textLength="11.3" lengthAdjust="spacingAndGlyphs">0.0</text>
<text x="122.7" y="282.63" text-anchor="end" class="tk" textLength="11.3" lengthAdjust="spacingAndGlyphs">0.1</text>
<text x="122.7" y="270.71" text-anchor="end" class="tk" textLength="11.3" lengthAdjust="spacingAndGlyphs">0.2</text>
<text x="122.7" y="258.79" text-anchor="end" class="tk" textLength="11.3" lengthAdjust="spacingAndGlyphs">0.3</text>
<text x="122.7" y="246.87" text-anchor="end" class="tk" textLength="11.3" lengthAdjust="spacingAndGlyphs">0.4</text>
<text x="122.7" y="234.95" text-anchor="end" class="tk" textLength="11.3" lengthAdjust="spacingAndGlyphs">0.5</text>
<text x="122.7" y="223.03" text-anchor="end" class="tk" textLength="11.3" lengthAdjust="spacingAndGlyphs">0.6</text>
<text x="122.7" y="211.11" text-anchor="end" class="tk" textLength="11.3" lengthAdjust="spacingAndGlyphs">0.7</text>
<text x="122.7" y="199.19" text-anchor="end" class="tk" textLength="11.3" lengthAdjust="spacingAndGlyphs">0.8</text>
<text x="122.7" y="187.27" text-anchor="end" class="tk" textLength="11.3" lengthAdjust="spacingAndGlyphs">0.9</text>
<text x="122.7" y="175.35" text-anchor="end" class="tk" textLength="11.3" lengthAdjust="spacingAndGlyphs">1.0</text>
<text x="132" y="302.3" text-anchor="middle" class="tk" textLength="23.7" lengthAdjust="spacingAndGlyphs">50000</text>
<text x="183.6" y="302.3" text-anchor="middle" class="tk" textLength="23.7" lengthAdjust="spacingAndGlyphs">60000</text>
<text x="235.2" y="302.3" text-anchor="middle" class="tk" textLength="23.7" lengthAdjust="spacingAndGlyphs">70000</text>
<text x="286.8" y="302.3" text-anchor="middle" class="tk" textLength="23.7" lengthAdjust="spacingAndGlyphs">80000</text>
<text x="338.4" y="302.3" text-anchor="middle" class="tk" textLength="23.7" lengthAdjust="spacingAndGlyphs">90000</text>
<text x="390" y="302.3" text-anchor="middle" class="tk" textLength="28.2" lengthAdjust="spacingAndGlyphs">100000</text>
<text transform="translate(105.6 231.5) rotate(-90)" text-anchor="middle" class="ax" textLength="58.5" lengthAdjust="spacingAndGlyphs">Concentration</text>
<text x="260.9" y="312.5" text-anchor="middle" class="ax2" textLength="18.4" lengthAdjust="spacingAndGlyphs">Step</text>
<text x="240.2" y="268.9" class="lg">Node <tspan class="os">4</tspan></text>
<text x="240.2" y="281.1" class="lg">Node <tspan class="os" dy="0.8">5</tspan></text>
<text x="447.7" y="293.45" text-anchor="end" class="tk" textLength="11.3" lengthAdjust="spacingAndGlyphs">0.0</text>
<text x="447.7" y="281.52" text-anchor="end" class="tk" textLength="11.3" lengthAdjust="spacingAndGlyphs">0.1</text>
<text x="447.7" y="269.59" text-anchor="end" class="tk" textLength="11.3" lengthAdjust="spacingAndGlyphs">0.2</text>
<text x="447.7" y="257.66" text-anchor="end" class="tk" textLength="11.3" lengthAdjust="spacingAndGlyphs">0.3</text>
<text x="447.7" y="245.73" text-anchor="end" class="tk" textLength="11.3" lengthAdjust="spacingAndGlyphs">0.4</text>
<text x="447.7" y="233.8" text-anchor="end" class="tk" textLength="11.3" lengthAdjust="spacingAndGlyphs">0.5</text>
<text x="447.7" y="221.87" text-anchor="end" class="tk" textLength="11.3" lengthAdjust="spacingAndGlyphs">0.6</text>
<text x="447.7" y="209.94" text-anchor="end" class="tk" textLength="11.3" lengthAdjust="spacingAndGlyphs">0.7</text>
<text x="447.7" y="198.01" text-anchor="end" class="tk" textLength="11.3" lengthAdjust="spacingAndGlyphs">0.8</text>
<text x="447.7" y="186.08" text-anchor="end" class="tk" textLength="11.3" lengthAdjust="spacingAndGlyphs">0.9</text>
<text x="447.7" y="174.15" text-anchor="end" class="tk" textLength="11.3" lengthAdjust="spacingAndGlyphs">1.0</text>
<text x="446.9" y="302.9" text-anchor="middle" class="tk" textLength="23.7" lengthAdjust="spacingAndGlyphs">50000</text>
<text x="498.5" y="302.9" text-anchor="middle" class="tk" textLength="23.7" lengthAdjust="spacingAndGlyphs">60000</text>
<text x="550.1" y="302.9" text-anchor="middle" class="tk" textLength="23.7" lengthAdjust="spacingAndGlyphs">70000</text>
<text x="601.7" y="302.9" text-anchor="middle" class="tk" textLength="23.7" lengthAdjust="spacingAndGlyphs">80000</text>
<text x="653.3" y="302.9" text-anchor="middle" class="tk" textLength="23.7" lengthAdjust="spacingAndGlyphs">90000</text>
<text x="704.9" y="302.9" text-anchor="middle" class="tk" textLength="28.2" lengthAdjust="spacingAndGlyphs">100000</text>
<text transform="translate(430.4 231.5) rotate(-90)" text-anchor="middle" class="ax" textLength="58.5" lengthAdjust="spacingAndGlyphs">Concentration</text>
<text x="575.8" y="313.3" text-anchor="middle" class="ax2" textLength="18.4" lengthAdjust="spacingAndGlyphs">Step</text>
<text x="506.2" y="184.8" class="lg">Node <tspan class="os">6</tspan></text>
<text x="567.2" y="184.8" class="lg">Node <tspan class="os">7</tspan></text>
<text x="628.2" y="184.8" class="lg">Node <tspan class="os">8</tspan></text>
<text x="79" y="182.6" class="pl">B</text>
<text x="122.7" y="457.45" text-anchor="end" class="tk" textLength="11.3" lengthAdjust="spacingAndGlyphs">0.0</text>
<text x="122.7" y="445.52" text-anchor="end" class="tk" textLength="11.3" lengthAdjust="spacingAndGlyphs">0.1</text>
<text x="122.7" y="433.59" text-anchor="end" class="tk" textLength="11.3" lengthAdjust="spacingAndGlyphs">0.2</text>
<text x="122.7" y="421.66" text-anchor="end" class="tk" textLength="11.3" lengthAdjust="spacingAndGlyphs">0.3</text>
<text x="122.7" y="409.73" text-anchor="end" class="tk" textLength="11.3" lengthAdjust="spacingAndGlyphs">0.4</text>
<text x="122.7" y="397.8" text-anchor="end" class="tk" textLength="11.3" lengthAdjust="spacingAndGlyphs">0.5</text>
<text x="122.7" y="385.87" text-anchor="end" class="tk" textLength="11.3" lengthAdjust="spacingAndGlyphs">0.6</text>
<text x="122.7" y="373.94" text-anchor="end" class="tk" textLength="11.3" lengthAdjust="spacingAndGlyphs">0.7</text>
<text x="122.7" y="362.01" text-anchor="end" class="tk" textLength="11.3" lengthAdjust="spacingAndGlyphs">0.8</text>
<text x="122.7" y="350.08" text-anchor="end" class="tk" textLength="11.3" lengthAdjust="spacingAndGlyphs">0.9</text>
<text x="122.7" y="338.15" text-anchor="end" class="tk" textLength="11.3" lengthAdjust="spacingAndGlyphs">1.0</text>
<text x="125.5" y="466.9" text-anchor="middle" class="tk" textLength="23.7" lengthAdjust="spacingAndGlyphs">50000</text>
<text x="177.1" y="466.9" text-anchor="middle" class="tk" textLength="23.7" lengthAdjust="spacingAndGlyphs">60000</text>
<text x="228.7" y="466.9" text-anchor="middle" class="tk" textLength="23.7" lengthAdjust="spacingAndGlyphs">70000</text>
<text x="280.3" y="466.9" text-anchor="middle" class="tk" textLength="23.7" lengthAdjust="spacingAndGlyphs">80000</text>
<text x="331.9" y="466.9" text-anchor="middle" class="tk" textLength="23.7" lengthAdjust="spacingAndGlyphs">90000</text>
<text x="383.5" y="466.9" text-anchor="middle" class="tk" textLength="28.2" lengthAdjust="spacingAndGlyphs">100000</text>
<text transform="translate(105.6 395) rotate(-90)" text-anchor="middle" class="ax" textLength="58.5" lengthAdjust="spacingAndGlyphs">Concentration</text>
<text x="254.5" y="476.85" text-anchor="middle" class="ax2" textLength="18.4" lengthAdjust="spacingAndGlyphs">Step</text>
<text x="238.2" y="432.9" class="lg">Node <tspan class="os">4</tspan></text>
<text x="238.2" y="445.1" class="lg">Node <tspan class="os" dy="0.8">5</tspan></text>
<text x="447.7" y="457.45" text-anchor="end" class="tk" textLength="11.3" lengthAdjust="spacingAndGlyphs">0.0</text>
<text x="447.7" y="445.52" text-anchor="end" class="tk" textLength="11.3" lengthAdjust="spacingAndGlyphs">0.1</text>
<text x="447.7" y="433.59" text-anchor="end" class="tk" textLength="11.3" lengthAdjust="spacingAndGlyphs">0.2</text>
<text x="447.7" y="421.66" text-anchor="end" class="tk" textLength="11.3" lengthAdjust="spacingAndGlyphs">0.3</text>
<text x="447.7" y="409.73" text-anchor="end" class="tk" textLength="11.3" lengthAdjust="spacingAndGlyphs">0.4</text>
<text x="447.7" y="397.8" text-anchor="end" class="tk" textLength="11.3" lengthAdjust="spacingAndGlyphs">0.5</text>
<text x="447.7" y="385.87" text-anchor="end" class="tk" textLength="11.3" lengthAdjust="spacingAndGlyphs">0.6</text>
<text x="447.7" y="373.94" text-anchor="end" class="tk" textLength="11.3" lengthAdjust="spacingAndGlyphs">0.7</text>
<text x="447.7" y="362.01" text-anchor="end" class="tk" textLength="11.3" lengthAdjust="spacingAndGlyphs">0.8</text>
<text x="447.7" y="350.08" text-anchor="end" class="tk" textLength="11.3" lengthAdjust="spacingAndGlyphs">0.9</text>
<text x="447.7" y="338.15" text-anchor="end" class="tk" textLength="11.3" lengthAdjust="spacingAndGlyphs">1.0</text>
<text x="446.9" y="466.9" text-anchor="middle" class="tk" textLength="23.7" lengthAdjust="spacingAndGlyphs">50000</text>
<text x="498.5" y="466.9" text-anchor="middle" class="tk" textLength="23.7" lengthAdjust="spacingAndGlyphs">60000</text>
<text x="550.1" y="466.9" text-anchor="middle" class="tk" textLength="23.7" lengthAdjust="spacingAndGlyphs">70000</text>
<text x="601.7" y="466.9" text-anchor="middle" class="tk" textLength="23.7" lengthAdjust="spacingAndGlyphs">80000</text>
<text x="653.3" y="466.9" text-anchor="middle" class="tk" textLength="23.7" lengthAdjust="spacingAndGlyphs">90000</text>
<text x="704.9" y="466.9" text-anchor="middle" class="tk" textLength="28.2" lengthAdjust="spacingAndGlyphs">100000</text>
<text transform="translate(430.4 395) rotate(-90)" text-anchor="middle" class="ax" textLength="58.5" lengthAdjust="spacingAndGlyphs">Concentration</text>
<text x="576" y="477.3" text-anchor="middle" class="ax2" textLength="18.4" lengthAdjust="spacingAndGlyphs">Step</text>
<text x="509.2" y="347.8" class="lg">Node <tspan class="os">6</tspan></text>
<text x="570.2" y="347.8" class="lg">Node <tspan class="os">7</tspan></text>
<text x="631.2" y="347.8" class="lg">Node <tspan class="os">8</tspan></text>
<text x="78.2" y="341.6" class="pl">C</text>
</svg>
<div style="filter:grayscale(1);position:absolute;left:0;top:0;width:796px;height:587px">
<div class="cl" style="top:496px;width:784px;font-size:12.4px"><b>Fig. 5.</b>&nbsp; The concentrations of Nodes 4–8 evolve along with the achievement of the toggle-switch. A. The concentrations of the DNFL and Part 3 without any</div>
<div class="cl" style="top:510.5px;width:784px;font-size:12.6px">stimulation. In the left picture, it shows the concentrations of the two nodes in DNFL. Since the signal from Node 3 makes the two states closer, the switch</div>
<div class="cl" style="top:525px;width:784px;font-size:12.6px">achieves more efficiently. B. The left graph displays the concentrations of the DNFL after given a stimulation in only one step (the switch achieved once).</div>
<div class="cl" style="top:539.5px;width:784px;font-size:12.6px">The right picture displays the concentrations of Part 3. C. The graph shows the concentrations of the DNFL and the Part 3 after stimulated three times. The</div>
<div class="cl" style="top:554px;width:784px;font-size:12.6px"><i>x</i>-axis represents the calculating time step. A network with a set of initial concentrations could evolve following the equations. We just record the data</div>
<div class="cl" style="top:568.5px;width:429px;font-size:12.6px">after 5000th calculating time step as all the concentrations keeping on stable states.</div>
</div>
</body></html>
